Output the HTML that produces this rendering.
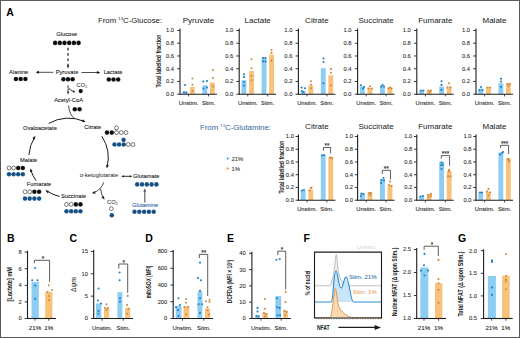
<!DOCTYPE html>
<html><head><meta charset="utf-8"><style>
html,body{margin:0;padding:0;background:#fff;}
svg{display:block;}
text{font-family:"Liberation Sans", sans-serif;}
</style></head><body>
<svg width="520" height="338" viewBox="0 0 520 338">
<rect width="520" height="338" fill="#fff"/>
<rect x="0.5" y="0.5" width="519" height="337" fill="none" stroke="#5a5a5a" stroke-width="1"/>
<text x="6.30" y="15.80" font-size="10.5" text-anchor="start" fill="#000" font-weight="bold"  >A</text>
<text x="7.00" y="241.80" font-size="10.5" text-anchor="start" fill="#000" font-weight="bold"  >B</text>
<text x="69.40" y="241.80" font-size="10.5" text-anchor="start" fill="#000" font-weight="bold"  >C</text>
<text x="145.30" y="241.80" font-size="10.5" text-anchor="start" fill="#000" font-weight="bold"  >D</text>
<text x="227.00" y="241.80" font-size="10.5" text-anchor="start" fill="#000" font-weight="bold"  >E</text>
<text x="303.40" y="241.80" font-size="10.5" text-anchor="start" fill="#000" font-weight="bold"  >F</text>
<text x="458.00" y="242.20" font-size="10.5" text-anchor="start" fill="#000" font-weight="bold"  >G</text>
<text x="198.50" y="23.00" font-size="8.0" text-anchor="middle" fill="#161616" font-weight="normal"  >Pyruvate</text>
<rect x="182.30" y="91.65" width="4.90" height="2.55" fill="#8dcdf2"/>
<rect x="189.90" y="86.87" width="4.90" height="7.33" fill="#f8c27a"/>
<rect x="202.40" y="85.28" width="4.90" height="8.92" fill="#8dcdf2"/>
<rect x="209.90" y="82.35" width="4.90" height="11.85" fill="#f8c27a"/>
<circle cx="185.00" cy="85.00" r="1.05" fill="#2280c4" stroke="none" stroke-width="0"/>
<circle cx="184.00" cy="92.30" r="1.05" fill="#2280c4" stroke="none" stroke-width="0"/>
<circle cx="186.50" cy="92.50" r="1.05" fill="#2280c4" stroke="none" stroke-width="0"/>
<circle cx="192.40" cy="78.50" r="1.05" fill="#cf8a45" stroke="none" stroke-width="0"/>
<circle cx="192.40" cy="84.70" r="1.05" fill="#cf8a45" stroke="none" stroke-width="0"/>
<circle cx="192.40" cy="91.00" r="1.05" fill="#cf8a45" stroke="none" stroke-width="0"/>
<circle cx="203.30" cy="81.60" r="1.05" fill="#2280c4" stroke="none" stroke-width="0"/>
<circle cx="207.00" cy="81.00" r="1.05" fill="#2280c4" stroke="none" stroke-width="0"/>
<circle cx="203.50" cy="88.60" r="1.05" fill="#2280c4" stroke="none" stroke-width="0"/>
<circle cx="207.00" cy="87.50" r="1.05" fill="#2280c4" stroke="none" stroke-width="0"/>
<circle cx="213.00" cy="70.00" r="1.05" fill="#cf8a45" stroke="none" stroke-width="0"/>
<circle cx="213.00" cy="78.00" r="1.05" fill="#cf8a45" stroke="none" stroke-width="0"/>
<circle cx="213.00" cy="86.40" r="1.05" fill="#cf8a45" stroke="none" stroke-width="0"/>
<line x1="180.00" y1="28.50" x2="180.00" y2="94.70" stroke="#1e1e1e" stroke-width="1.1" />
<line x1="179.50" y1="94.20" x2="217.00" y2="94.20" stroke="#1e1e1e" stroke-width="1.1" />
<line x1="177.20" y1="94.20" x2="180.00" y2="94.20" stroke="#1e1e1e" stroke-width="0.9" />
<text x="174.00" y="96.10" font-size="5.8" text-anchor="end" fill="#2a2a2a" font-weight="normal" stroke="#2a2a2a" stroke-width="0.08" >0.0</text>
<line x1="177.20" y1="81.46" x2="180.00" y2="81.46" stroke="#1e1e1e" stroke-width="0.9" />
<text x="174.00" y="83.36" font-size="5.8" text-anchor="end" fill="#2a2a2a" font-weight="normal" stroke="#2a2a2a" stroke-width="0.08" >0.2</text>
<line x1="177.20" y1="68.72" x2="180.00" y2="68.72" stroke="#1e1e1e" stroke-width="0.9" />
<text x="174.00" y="70.62" font-size="5.8" text-anchor="end" fill="#2a2a2a" font-weight="normal" stroke="#2a2a2a" stroke-width="0.08" >0.4</text>
<line x1="177.20" y1="55.98" x2="180.00" y2="55.98" stroke="#1e1e1e" stroke-width="0.9" />
<text x="174.00" y="57.88" font-size="5.8" text-anchor="end" fill="#2a2a2a" font-weight="normal" stroke="#2a2a2a" stroke-width="0.08" >0.6</text>
<line x1="177.20" y1="43.24" x2="180.00" y2="43.24" stroke="#1e1e1e" stroke-width="0.9" />
<text x="174.00" y="45.14" font-size="5.8" text-anchor="end" fill="#2a2a2a" font-weight="normal" stroke="#2a2a2a" stroke-width="0.08" >0.8</text>
<line x1="177.20" y1="30.50" x2="180.00" y2="30.50" stroke="#1e1e1e" stroke-width="0.9" />
<text x="174.00" y="32.40" font-size="5.8" text-anchor="end" fill="#2a2a2a" font-weight="normal" stroke="#2a2a2a" stroke-width="0.08" >1.0</text>
<line x1="188.60" y1="94.20" x2="188.60" y2="96.40" stroke="#1e1e1e" stroke-width="0.8" />
<line x1="208.50" y1="94.20" x2="208.50" y2="96.40" stroke="#1e1e1e" stroke-width="0.8" />
<text x="188.60" y="105.10" font-size="5.8" text-anchor="middle" fill="#161616" font-weight="normal" stroke="#161616" stroke-width="0.08" >Unstim.</text>
<text x="208.50" y="105.10" font-size="5.8" text-anchor="middle" fill="#161616" font-weight="normal" stroke="#161616" stroke-width="0.08" >Stim.</text>
<text transform="translate(160.70,61.10) rotate(-90)" x="0" y="0" font-size="7.8" font-weight="bold" text-anchor="middle" fill="#222" textLength="53" lengthAdjust="spacingAndGlyphs">Total labelled fraction</text>
<text x="257.70" y="23.00" font-size="8.0" text-anchor="middle" fill="#161616" font-weight="normal"  >Lactate</text>
<rect x="241.50" y="80.25" width="4.90" height="13.95" fill="#8dcdf2"/>
<rect x="249.10" y="70.82" width="4.90" height="23.38" fill="#f8c27a"/>
<rect x="261.60" y="57.64" width="4.90" height="36.56" fill="#8dcdf2"/>
<rect x="269.10" y="54.58" width="4.90" height="39.62" fill="#f8c27a"/>
<circle cx="244.00" cy="74.30" r="1.05" fill="#2280c4" stroke="none" stroke-width="0"/>
<circle cx="244.00" cy="76.90" r="1.05" fill="#2280c4" stroke="none" stroke-width="0"/>
<circle cx="244.00" cy="82.00" r="1.05" fill="#2280c4" stroke="none" stroke-width="0"/>
<circle cx="244.00" cy="85.50" r="1.05" fill="#2280c4" stroke="none" stroke-width="0"/>
<circle cx="251.50" cy="59.20" r="1.05" fill="#cf8a45" stroke="none" stroke-width="0"/>
<circle cx="251.50" cy="68.30" r="1.05" fill="#cf8a45" stroke="none" stroke-width="0"/>
<circle cx="251.50" cy="76.00" r="1.05" fill="#cf8a45" stroke="none" stroke-width="0"/>
<circle cx="251.50" cy="80.30" r="1.05" fill="#cf8a45" stroke="none" stroke-width="0"/>
<circle cx="263.00" cy="58.00" r="1.05" fill="#2280c4" stroke="none" stroke-width="0"/>
<circle cx="265.50" cy="58.00" r="1.05" fill="#2280c4" stroke="none" stroke-width="0"/>
<circle cx="263.00" cy="61.40" r="1.05" fill="#2280c4" stroke="none" stroke-width="0"/>
<circle cx="265.50" cy="61.40" r="1.05" fill="#2280c4" stroke="none" stroke-width="0"/>
<circle cx="271.50" cy="50.00" r="1.05" fill="#cf8a45" stroke="none" stroke-width="0"/>
<circle cx="271.50" cy="52.90" r="1.05" fill="#cf8a45" stroke="none" stroke-width="0"/>
<circle cx="271.50" cy="60.60" r="1.05" fill="#cf8a45" stroke="none" stroke-width="0"/>
<line x1="239.20" y1="28.50" x2="239.20" y2="94.70" stroke="#1e1e1e" stroke-width="1.1" />
<line x1="238.70" y1="94.20" x2="276.20" y2="94.20" stroke="#1e1e1e" stroke-width="1.1" />
<line x1="236.40" y1="94.20" x2="239.20" y2="94.20" stroke="#1e1e1e" stroke-width="0.9" />
<text x="233.20" y="96.10" font-size="5.8" text-anchor="end" fill="#2a2a2a" font-weight="normal" stroke="#2a2a2a" stroke-width="0.08" >0.0</text>
<line x1="236.40" y1="81.46" x2="239.20" y2="81.46" stroke="#1e1e1e" stroke-width="0.9" />
<text x="233.20" y="83.36" font-size="5.8" text-anchor="end" fill="#2a2a2a" font-weight="normal" stroke="#2a2a2a" stroke-width="0.08" >0.2</text>
<line x1="236.40" y1="68.72" x2="239.20" y2="68.72" stroke="#1e1e1e" stroke-width="0.9" />
<text x="233.20" y="70.62" font-size="5.8" text-anchor="end" fill="#2a2a2a" font-weight="normal" stroke="#2a2a2a" stroke-width="0.08" >0.4</text>
<line x1="236.40" y1="55.98" x2="239.20" y2="55.98" stroke="#1e1e1e" stroke-width="0.9" />
<text x="233.20" y="57.88" font-size="5.8" text-anchor="end" fill="#2a2a2a" font-weight="normal" stroke="#2a2a2a" stroke-width="0.08" >0.6</text>
<line x1="236.40" y1="43.24" x2="239.20" y2="43.24" stroke="#1e1e1e" stroke-width="0.9" />
<text x="233.20" y="45.14" font-size="5.8" text-anchor="end" fill="#2a2a2a" font-weight="normal" stroke="#2a2a2a" stroke-width="0.08" >0.8</text>
<line x1="236.40" y1="30.50" x2="239.20" y2="30.50" stroke="#1e1e1e" stroke-width="0.9" />
<text x="233.20" y="32.40" font-size="5.8" text-anchor="end" fill="#2a2a2a" font-weight="normal" stroke="#2a2a2a" stroke-width="0.08" >1.0</text>
<line x1="247.80" y1="94.20" x2="247.80" y2="96.40" stroke="#1e1e1e" stroke-width="0.8" />
<line x1="267.70" y1="94.20" x2="267.70" y2="96.40" stroke="#1e1e1e" stroke-width="0.8" />
<text x="247.80" y="105.10" font-size="5.8" text-anchor="middle" fill="#161616" font-weight="normal" stroke="#161616" stroke-width="0.08" >Unstim.</text>
<text x="267.70" y="105.10" font-size="5.8" text-anchor="middle" fill="#161616" font-weight="normal" stroke="#161616" stroke-width="0.08" >Stim.</text>
<text x="316.90" y="23.00" font-size="8.0" text-anchor="middle" fill="#161616" font-weight="normal"  >Citrate</text>
<rect x="300.70" y="91.02" width="4.90" height="3.19" fill="#8dcdf2"/>
<rect x="308.30" y="85.41" width="4.90" height="8.79" fill="#f8c27a"/>
<rect x="320.80" y="68.15" width="4.90" height="26.05" fill="#8dcdf2"/>
<rect x="328.30" y="75.41" width="4.90" height="18.79" fill="#f8c27a"/>
<circle cx="301.50" cy="87.60" r="1.05" fill="#2280c4" stroke="none" stroke-width="0"/>
<circle cx="305.00" cy="88.30" r="1.05" fill="#2280c4" stroke="none" stroke-width="0"/>
<circle cx="302.00" cy="91.00" r="1.05" fill="#2280c4" stroke="none" stroke-width="0"/>
<circle cx="303.50" cy="92.00" r="1.05" fill="#2280c4" stroke="none" stroke-width="0"/>
<circle cx="311.00" cy="81.20" r="1.05" fill="#cf8a45" stroke="none" stroke-width="0"/>
<circle cx="311.00" cy="84.80" r="1.05" fill="#cf8a45" stroke="none" stroke-width="0"/>
<circle cx="311.00" cy="88.30" r="1.05" fill="#cf8a45" stroke="none" stroke-width="0"/>
<circle cx="323.50" cy="58.50" r="1.05" fill="#2280c4" stroke="none" stroke-width="0"/>
<circle cx="323.50" cy="62.00" r="1.05" fill="#2280c4" stroke="none" stroke-width="0"/>
<circle cx="323.50" cy="83.30" r="1.05" fill="#2280c4" stroke="none" stroke-width="0"/>
<circle cx="331.00" cy="69.10" r="1.05" fill="#cf8a45" stroke="none" stroke-width="0"/>
<circle cx="331.00" cy="72.70" r="1.05" fill="#cf8a45" stroke="none" stroke-width="0"/>
<circle cx="331.00" cy="85.50" r="1.05" fill="#cf8a45" stroke="none" stroke-width="0"/>
<line x1="298.40" y1="28.50" x2="298.40" y2="94.70" stroke="#1e1e1e" stroke-width="1.1" />
<line x1="297.90" y1="94.20" x2="335.40" y2="94.20" stroke="#1e1e1e" stroke-width="1.1" />
<line x1="295.60" y1="94.20" x2="298.40" y2="94.20" stroke="#1e1e1e" stroke-width="0.9" />
<text x="292.40" y="96.10" font-size="5.8" text-anchor="end" fill="#2a2a2a" font-weight="normal" stroke="#2a2a2a" stroke-width="0.08" >0.0</text>
<line x1="295.60" y1="81.46" x2="298.40" y2="81.46" stroke="#1e1e1e" stroke-width="0.9" />
<text x="292.40" y="83.36" font-size="5.8" text-anchor="end" fill="#2a2a2a" font-weight="normal" stroke="#2a2a2a" stroke-width="0.08" >0.2</text>
<line x1="295.60" y1="68.72" x2="298.40" y2="68.72" stroke="#1e1e1e" stroke-width="0.9" />
<text x="292.40" y="70.62" font-size="5.8" text-anchor="end" fill="#2a2a2a" font-weight="normal" stroke="#2a2a2a" stroke-width="0.08" >0.4</text>
<line x1="295.60" y1="55.98" x2="298.40" y2="55.98" stroke="#1e1e1e" stroke-width="0.9" />
<text x="292.40" y="57.88" font-size="5.8" text-anchor="end" fill="#2a2a2a" font-weight="normal" stroke="#2a2a2a" stroke-width="0.08" >0.6</text>
<line x1="295.60" y1="43.24" x2="298.40" y2="43.24" stroke="#1e1e1e" stroke-width="0.9" />
<text x="292.40" y="45.14" font-size="5.8" text-anchor="end" fill="#2a2a2a" font-weight="normal" stroke="#2a2a2a" stroke-width="0.08" >0.8</text>
<line x1="295.60" y1="30.50" x2="298.40" y2="30.50" stroke="#1e1e1e" stroke-width="0.9" />
<text x="292.40" y="32.40" font-size="5.8" text-anchor="end" fill="#2a2a2a" font-weight="normal" stroke="#2a2a2a" stroke-width="0.08" >1.0</text>
<line x1="307.00" y1="94.20" x2="307.00" y2="96.40" stroke="#1e1e1e" stroke-width="0.8" />
<line x1="326.90" y1="94.20" x2="326.90" y2="96.40" stroke="#1e1e1e" stroke-width="0.8" />
<text x="307.00" y="105.10" font-size="5.8" text-anchor="middle" fill="#161616" font-weight="normal" stroke="#161616" stroke-width="0.08" >Unstim.</text>
<text x="326.90" y="105.10" font-size="5.8" text-anchor="middle" fill="#161616" font-weight="normal" stroke="#161616" stroke-width="0.08" >Stim.</text>
<text x="376.10" y="23.00" font-size="8.0" text-anchor="middle" fill="#161616" font-weight="normal"  >Succinate</text>
<rect x="359.90" y="86.56" width="4.90" height="7.64" fill="#8dcdf2"/>
<rect x="367.50" y="87.83" width="4.90" height="6.37" fill="#f8c27a"/>
<rect x="380.00" y="86.11" width="4.90" height="8.09" fill="#8dcdf2"/>
<rect x="387.50" y="87.32" width="4.90" height="6.88" fill="#f8c27a"/>
<circle cx="361.00" cy="85.30" r="1.05" fill="#2280c4" stroke="none" stroke-width="0"/>
<circle cx="364.00" cy="87.00" r="1.05" fill="#2280c4" stroke="none" stroke-width="0"/>
<circle cx="363.00" cy="88.50" r="1.05" fill="#2280c4" stroke="none" stroke-width="0"/>
<circle cx="370.00" cy="86.20" r="1.05" fill="#cf8a45" stroke="none" stroke-width="0"/>
<circle cx="368.50" cy="88.50" r="1.05" fill="#cf8a45" stroke="none" stroke-width="0"/>
<circle cx="372.00" cy="88.50" r="1.05" fill="#cf8a45" stroke="none" stroke-width="0"/>
<circle cx="382.50" cy="84.90" r="1.05" fill="#2280c4" stroke="none" stroke-width="0"/>
<circle cx="381.00" cy="86.60" r="1.05" fill="#2280c4" stroke="none" stroke-width="0"/>
<circle cx="384.00" cy="86.60" r="1.05" fill="#2280c4" stroke="none" stroke-width="0"/>
<circle cx="390.00" cy="87.50" r="1.05" fill="#cf8a45" stroke="none" stroke-width="0"/>
<circle cx="388.50" cy="88.50" r="1.05" fill="#cf8a45" stroke="none" stroke-width="0"/>
<circle cx="391.50" cy="88.50" r="1.05" fill="#cf8a45" stroke="none" stroke-width="0"/>
<line x1="357.60" y1="28.50" x2="357.60" y2="94.70" stroke="#1e1e1e" stroke-width="1.1" />
<line x1="357.10" y1="94.20" x2="394.60" y2="94.20" stroke="#1e1e1e" stroke-width="1.1" />
<line x1="354.80" y1="94.20" x2="357.60" y2="94.20" stroke="#1e1e1e" stroke-width="0.9" />
<text x="351.60" y="96.10" font-size="5.8" text-anchor="end" fill="#2a2a2a" font-weight="normal" stroke="#2a2a2a" stroke-width="0.08" >0.0</text>
<line x1="354.80" y1="81.46" x2="357.60" y2="81.46" stroke="#1e1e1e" stroke-width="0.9" />
<text x="351.60" y="83.36" font-size="5.8" text-anchor="end" fill="#2a2a2a" font-weight="normal" stroke="#2a2a2a" stroke-width="0.08" >0.2</text>
<line x1="354.80" y1="68.72" x2="357.60" y2="68.72" stroke="#1e1e1e" stroke-width="0.9" />
<text x="351.60" y="70.62" font-size="5.8" text-anchor="end" fill="#2a2a2a" font-weight="normal" stroke="#2a2a2a" stroke-width="0.08" >0.4</text>
<line x1="354.80" y1="55.98" x2="357.60" y2="55.98" stroke="#1e1e1e" stroke-width="0.9" />
<text x="351.60" y="57.88" font-size="5.8" text-anchor="end" fill="#2a2a2a" font-weight="normal" stroke="#2a2a2a" stroke-width="0.08" >0.6</text>
<line x1="354.80" y1="43.24" x2="357.60" y2="43.24" stroke="#1e1e1e" stroke-width="0.9" />
<text x="351.60" y="45.14" font-size="5.8" text-anchor="end" fill="#2a2a2a" font-weight="normal" stroke="#2a2a2a" stroke-width="0.08" >0.8</text>
<line x1="354.80" y1="30.50" x2="357.60" y2="30.50" stroke="#1e1e1e" stroke-width="0.9" />
<text x="351.60" y="32.40" font-size="5.8" text-anchor="end" fill="#2a2a2a" font-weight="normal" stroke="#2a2a2a" stroke-width="0.08" >1.0</text>
<line x1="366.20" y1="94.20" x2="366.20" y2="96.40" stroke="#1e1e1e" stroke-width="0.8" />
<line x1="386.10" y1="94.20" x2="386.10" y2="96.40" stroke="#1e1e1e" stroke-width="0.8" />
<text x="366.20" y="105.10" font-size="5.8" text-anchor="middle" fill="#161616" font-weight="normal" stroke="#161616" stroke-width="0.08" >Unstim.</text>
<text x="386.10" y="105.10" font-size="5.8" text-anchor="middle" fill="#161616" font-weight="normal" stroke="#161616" stroke-width="0.08" >Stim.</text>
<text x="435.30" y="23.00" font-size="8.0" text-anchor="middle" fill="#161616" font-weight="normal"  >Fumarate</text>
<rect x="419.10" y="90.19" width="4.90" height="4.01" fill="#8dcdf2"/>
<rect x="426.70" y="90.63" width="4.90" height="3.57" fill="#f8c27a"/>
<rect x="439.20" y="86.49" width="4.90" height="7.71" fill="#8dcdf2"/>
<rect x="446.70" y="87.32" width="4.90" height="6.88" fill="#f8c27a"/>
<circle cx="421.00" cy="90.50" r="1.05" fill="#2280c4" stroke="none" stroke-width="0"/>
<circle cx="423.50" cy="90.50" r="1.05" fill="#2280c4" stroke="none" stroke-width="0"/>
<circle cx="428.50" cy="90.50" r="1.05" fill="#cf8a45" stroke="none" stroke-width="0"/>
<circle cx="431.00" cy="90.50" r="1.05" fill="#cf8a45" stroke="none" stroke-width="0"/>
<circle cx="429.50" cy="92.00" r="1.05" fill="#cf8a45" stroke="none" stroke-width="0"/>
<circle cx="441.50" cy="81.20" r="1.05" fill="#2280c4" stroke="none" stroke-width="0"/>
<circle cx="441.50" cy="84.90" r="1.05" fill="#2280c4" stroke="none" stroke-width="0"/>
<circle cx="441.50" cy="89.90" r="1.05" fill="#2280c4" stroke="none" stroke-width="0"/>
<circle cx="449.00" cy="83.30" r="1.05" fill="#cf8a45" stroke="none" stroke-width="0"/>
<circle cx="447.50" cy="87.40" r="1.05" fill="#cf8a45" stroke="none" stroke-width="0"/>
<circle cx="450.50" cy="87.40" r="1.05" fill="#cf8a45" stroke="none" stroke-width="0"/>
<line x1="416.80" y1="28.50" x2="416.80" y2="94.70" stroke="#1e1e1e" stroke-width="1.1" />
<line x1="416.30" y1="94.20" x2="453.80" y2="94.20" stroke="#1e1e1e" stroke-width="1.1" />
<line x1="414.00" y1="94.20" x2="416.80" y2="94.20" stroke="#1e1e1e" stroke-width="0.9" />
<text x="410.80" y="96.10" font-size="5.8" text-anchor="end" fill="#2a2a2a" font-weight="normal" stroke="#2a2a2a" stroke-width="0.08" >0.0</text>
<line x1="414.00" y1="81.46" x2="416.80" y2="81.46" stroke="#1e1e1e" stroke-width="0.9" />
<text x="410.80" y="83.36" font-size="5.8" text-anchor="end" fill="#2a2a2a" font-weight="normal" stroke="#2a2a2a" stroke-width="0.08" >0.2</text>
<line x1="414.00" y1="68.72" x2="416.80" y2="68.72" stroke="#1e1e1e" stroke-width="0.9" />
<text x="410.80" y="70.62" font-size="5.8" text-anchor="end" fill="#2a2a2a" font-weight="normal" stroke="#2a2a2a" stroke-width="0.08" >0.4</text>
<line x1="414.00" y1="55.98" x2="416.80" y2="55.98" stroke="#1e1e1e" stroke-width="0.9" />
<text x="410.80" y="57.88" font-size="5.8" text-anchor="end" fill="#2a2a2a" font-weight="normal" stroke="#2a2a2a" stroke-width="0.08" >0.6</text>
<line x1="414.00" y1="43.24" x2="416.80" y2="43.24" stroke="#1e1e1e" stroke-width="0.9" />
<text x="410.80" y="45.14" font-size="5.8" text-anchor="end" fill="#2a2a2a" font-weight="normal" stroke="#2a2a2a" stroke-width="0.08" >0.8</text>
<line x1="414.00" y1="30.50" x2="416.80" y2="30.50" stroke="#1e1e1e" stroke-width="0.9" />
<text x="410.80" y="32.40" font-size="5.8" text-anchor="end" fill="#2a2a2a" font-weight="normal" stroke="#2a2a2a" stroke-width="0.08" >1.0</text>
<line x1="425.40" y1="94.20" x2="425.40" y2="96.40" stroke="#1e1e1e" stroke-width="0.8" />
<line x1="445.30" y1="94.20" x2="445.30" y2="96.40" stroke="#1e1e1e" stroke-width="0.8" />
<text x="425.40" y="105.10" font-size="5.8" text-anchor="middle" fill="#161616" font-weight="normal" stroke="#161616" stroke-width="0.08" >Unstim.</text>
<text x="445.30" y="105.10" font-size="5.8" text-anchor="middle" fill="#161616" font-weight="normal" stroke="#161616" stroke-width="0.08" >Stim.</text>
<text x="494.50" y="23.00" font-size="8.0" text-anchor="middle" fill="#161616" font-weight="normal"  >Malate</text>
<rect x="478.30" y="88.53" width="4.90" height="5.67" fill="#8dcdf2"/>
<rect x="485.90" y="87.32" width="4.90" height="6.88" fill="#f8c27a"/>
<rect x="498.40" y="83.24" width="4.90" height="10.96" fill="#8dcdf2"/>
<rect x="505.90" y="83.24" width="4.90" height="10.96" fill="#f8c27a"/>
<circle cx="481.00" cy="87.00" r="1.05" fill="#2280c4" stroke="none" stroke-width="0"/>
<circle cx="479.50" cy="90.30" r="1.05" fill="#2280c4" stroke="none" stroke-width="0"/>
<circle cx="482.50" cy="90.30" r="1.05" fill="#2280c4" stroke="none" stroke-width="0"/>
<circle cx="487.50" cy="87.50" r="1.05" fill="#cf8a45" stroke="none" stroke-width="0"/>
<circle cx="490.00" cy="87.50" r="1.05" fill="#cf8a45" stroke="none" stroke-width="0"/>
<circle cx="501.00" cy="78.70" r="1.05" fill="#2280c4" stroke="none" stroke-width="0"/>
<circle cx="501.00" cy="81.60" r="1.05" fill="#2280c4" stroke="none" stroke-width="0"/>
<circle cx="501.00" cy="87.00" r="1.05" fill="#2280c4" stroke="none" stroke-width="0"/>
<circle cx="507.50" cy="84.10" r="1.05" fill="#cf8a45" stroke="none" stroke-width="0"/>
<circle cx="510.00" cy="84.10" r="1.05" fill="#cf8a45" stroke="none" stroke-width="0"/>
<circle cx="508.50" cy="86.20" r="1.05" fill="#cf8a45" stroke="none" stroke-width="0"/>
<line x1="476.00" y1="28.50" x2="476.00" y2="94.70" stroke="#1e1e1e" stroke-width="1.1" />
<line x1="475.50" y1="94.20" x2="513.00" y2="94.20" stroke="#1e1e1e" stroke-width="1.1" />
<line x1="473.20" y1="94.20" x2="476.00" y2="94.20" stroke="#1e1e1e" stroke-width="0.9" />
<text x="470.00" y="96.10" font-size="5.8" text-anchor="end" fill="#2a2a2a" font-weight="normal" stroke="#2a2a2a" stroke-width="0.08" >0.0</text>
<line x1="473.20" y1="81.46" x2="476.00" y2="81.46" stroke="#1e1e1e" stroke-width="0.9" />
<text x="470.00" y="83.36" font-size="5.8" text-anchor="end" fill="#2a2a2a" font-weight="normal" stroke="#2a2a2a" stroke-width="0.08" >0.2</text>
<line x1="473.20" y1="68.72" x2="476.00" y2="68.72" stroke="#1e1e1e" stroke-width="0.9" />
<text x="470.00" y="70.62" font-size="5.8" text-anchor="end" fill="#2a2a2a" font-weight="normal" stroke="#2a2a2a" stroke-width="0.08" >0.4</text>
<line x1="473.20" y1="55.98" x2="476.00" y2="55.98" stroke="#1e1e1e" stroke-width="0.9" />
<text x="470.00" y="57.88" font-size="5.8" text-anchor="end" fill="#2a2a2a" font-weight="normal" stroke="#2a2a2a" stroke-width="0.08" >0.6</text>
<line x1="473.20" y1="43.24" x2="476.00" y2="43.24" stroke="#1e1e1e" stroke-width="0.9" />
<text x="470.00" y="45.14" font-size="5.8" text-anchor="end" fill="#2a2a2a" font-weight="normal" stroke="#2a2a2a" stroke-width="0.08" >0.8</text>
<line x1="473.20" y1="30.50" x2="476.00" y2="30.50" stroke="#1e1e1e" stroke-width="0.9" />
<text x="470.00" y="32.40" font-size="5.8" text-anchor="end" fill="#2a2a2a" font-weight="normal" stroke="#2a2a2a" stroke-width="0.08" >1.0</text>
<line x1="484.60" y1="94.20" x2="484.60" y2="96.40" stroke="#1e1e1e" stroke-width="0.8" />
<line x1="504.50" y1="94.20" x2="504.50" y2="96.40" stroke="#1e1e1e" stroke-width="0.8" />
<text x="484.60" y="105.10" font-size="5.8" text-anchor="middle" fill="#161616" font-weight="normal" stroke="#161616" stroke-width="0.08" >Unstim.</text>
<text x="504.50" y="105.10" font-size="5.8" text-anchor="middle" fill="#161616" font-weight="normal" stroke="#161616" stroke-width="0.08" >Stim.</text>
<text x="316.90" y="129.00" font-size="8.0" text-anchor="middle" fill="#161616" font-weight="normal"  >Citrate</text>
<rect x="300.70" y="190.90" width="4.90" height="9.30" fill="#8dcdf2"/>
<rect x="308.30" y="189.63" width="4.90" height="10.57" fill="#f8c27a"/>
<rect x="320.80" y="154.65" width="4.90" height="45.55" fill="#8dcdf2"/>
<rect x="328.30" y="156.88" width="4.90" height="43.32" fill="#f8c27a"/>
<circle cx="302.00" cy="190.50" r="1.05" fill="#2280c4" stroke="none" stroke-width="0"/>
<circle cx="304.00" cy="190.00" r="1.05" fill="#2280c4" stroke="none" stroke-width="0"/>
<circle cx="311.00" cy="188.00" r="1.05" fill="#cf8a45" stroke="none" stroke-width="0"/>
<circle cx="309.50" cy="190.50" r="1.05" fill="#cf8a45" stroke="none" stroke-width="0"/>
<circle cx="311.50" cy="187.50" r="1.05" fill="#cf8a45" stroke="none" stroke-width="0"/>
<circle cx="322.00" cy="155.50" r="1.05" fill="#2280c4" stroke="none" stroke-width="0"/>
<circle cx="324.00" cy="155.00" r="1.05" fill="#2280c4" stroke="none" stroke-width="0"/>
<circle cx="330.00" cy="157.50" r="1.05" fill="#cf8a45" stroke="none" stroke-width="0"/>
<circle cx="332.00" cy="158.00" r="1.05" fill="#cf8a45" stroke="none" stroke-width="0"/>
<line x1="298.40" y1="134.50" x2="298.40" y2="200.70" stroke="#1e1e1e" stroke-width="1.1" />
<line x1="297.90" y1="200.20" x2="335.40" y2="200.20" stroke="#1e1e1e" stroke-width="1.1" />
<line x1="295.60" y1="200.20" x2="298.40" y2="200.20" stroke="#1e1e1e" stroke-width="0.9" />
<text x="293.90" y="202.10" font-size="5.8" text-anchor="end" fill="#2a2a2a" font-weight="normal" stroke="#2a2a2a" stroke-width="0.08" >0.0</text>
<line x1="295.60" y1="187.46" x2="298.40" y2="187.46" stroke="#1e1e1e" stroke-width="0.9" />
<text x="293.90" y="189.36" font-size="5.8" text-anchor="end" fill="#2a2a2a" font-weight="normal" stroke="#2a2a2a" stroke-width="0.08" >0.2</text>
<line x1="295.60" y1="174.72" x2="298.40" y2="174.72" stroke="#1e1e1e" stroke-width="0.9" />
<text x="293.90" y="176.62" font-size="5.8" text-anchor="end" fill="#2a2a2a" font-weight="normal" stroke="#2a2a2a" stroke-width="0.08" >0.4</text>
<line x1="295.60" y1="161.98" x2="298.40" y2="161.98" stroke="#1e1e1e" stroke-width="0.9" />
<text x="293.90" y="163.88" font-size="5.8" text-anchor="end" fill="#2a2a2a" font-weight="normal" stroke="#2a2a2a" stroke-width="0.08" >0.6</text>
<line x1="295.60" y1="149.24" x2="298.40" y2="149.24" stroke="#1e1e1e" stroke-width="0.9" />
<text x="293.90" y="151.14" font-size="5.8" text-anchor="end" fill="#2a2a2a" font-weight="normal" stroke="#2a2a2a" stroke-width="0.08" >0.8</text>
<line x1="295.60" y1="136.50" x2="298.40" y2="136.50" stroke="#1e1e1e" stroke-width="0.9" />
<text x="293.90" y="138.40" font-size="5.8" text-anchor="end" fill="#2a2a2a" font-weight="normal" stroke="#2a2a2a" stroke-width="0.08" >1.0</text>
<line x1="307.00" y1="200.20" x2="307.00" y2="202.40" stroke="#1e1e1e" stroke-width="0.8" />
<line x1="326.90" y1="200.20" x2="326.90" y2="202.40" stroke="#1e1e1e" stroke-width="0.8" />
<text x="307.00" y="211.10" font-size="5.8" text-anchor="middle" fill="#161616" font-weight="normal" stroke="#161616" stroke-width="0.08" >Unstim.</text>
<text x="326.90" y="211.10" font-size="5.8" text-anchor="middle" fill="#161616" font-weight="normal" stroke="#161616" stroke-width="0.08" >Stim.</text>
<text transform="translate(283.80,167.10) rotate(-90)" x="0" y="0" font-size="7.8" font-weight="bold" text-anchor="middle" fill="#222" textLength="53" lengthAdjust="spacingAndGlyphs">Total labelled fraction</text>
<path d="M323.4,150.7 L323.4,147.5 L330.6,147.5 L330.6,153.3" stroke="#333" stroke-width="0.8" fill="none" />
<text x="327.00" y="147.90" font-size="6.3" text-anchor="middle" fill="#333" font-weight="normal" stroke="#333" stroke-width="0.15" >**</text>
<text x="376.10" y="129.00" font-size="8.0" text-anchor="middle" fill="#161616" font-weight="normal"  >Succinate</text>
<rect x="359.90" y="193.32" width="4.90" height="6.88" fill="#8dcdf2"/>
<rect x="367.50" y="192.68" width="4.90" height="7.52" fill="#f8c27a"/>
<rect x="380.00" y="179.18" width="4.90" height="21.02" fill="#8dcdf2"/>
<rect x="387.50" y="185.04" width="4.90" height="15.16" fill="#f8c27a"/>
<circle cx="361.50" cy="193.50" r="1.05" fill="#2280c4" stroke="none" stroke-width="0"/>
<circle cx="363.50" cy="194.00" r="1.05" fill="#2280c4" stroke="none" stroke-width="0"/>
<circle cx="361.00" cy="196.00" r="1.05" fill="#2280c4" stroke="none" stroke-width="0"/>
<circle cx="369.00" cy="193.00" r="1.05" fill="#cf8a45" stroke="none" stroke-width="0"/>
<circle cx="371.00" cy="193.00" r="1.05" fill="#cf8a45" stroke="none" stroke-width="0"/>
<circle cx="370.00" cy="195.00" r="1.05" fill="#cf8a45" stroke="none" stroke-width="0"/>
<circle cx="383.50" cy="178.00" r="1.05" fill="#2280c4" stroke="none" stroke-width="0"/>
<circle cx="381.50" cy="180.00" r="1.05" fill="#2280c4" stroke="none" stroke-width="0"/>
<circle cx="384.00" cy="180.50" r="1.05" fill="#2280c4" stroke="none" stroke-width="0"/>
<circle cx="381.00" cy="183.00" r="1.05" fill="#2280c4" stroke="none" stroke-width="0"/>
<circle cx="390.00" cy="181.60" r="1.05" fill="#cf8a45" stroke="none" stroke-width="0"/>
<circle cx="389.00" cy="185.00" r="1.05" fill="#cf8a45" stroke="none" stroke-width="0"/>
<circle cx="391.50" cy="186.00" r="1.05" fill="#cf8a45" stroke="none" stroke-width="0"/>
<line x1="357.60" y1="134.50" x2="357.60" y2="200.70" stroke="#1e1e1e" stroke-width="1.1" />
<line x1="357.10" y1="200.20" x2="394.60" y2="200.20" stroke="#1e1e1e" stroke-width="1.1" />
<line x1="354.80" y1="200.20" x2="357.60" y2="200.20" stroke="#1e1e1e" stroke-width="0.9" />
<text x="353.10" y="202.10" font-size="5.8" text-anchor="end" fill="#2a2a2a" font-weight="normal" stroke="#2a2a2a" stroke-width="0.08" >0.0</text>
<line x1="354.80" y1="187.46" x2="357.60" y2="187.46" stroke="#1e1e1e" stroke-width="0.9" />
<text x="353.10" y="189.36" font-size="5.8" text-anchor="end" fill="#2a2a2a" font-weight="normal" stroke="#2a2a2a" stroke-width="0.08" >0.2</text>
<line x1="354.80" y1="174.72" x2="357.60" y2="174.72" stroke="#1e1e1e" stroke-width="0.9" />
<text x="353.10" y="176.62" font-size="5.8" text-anchor="end" fill="#2a2a2a" font-weight="normal" stroke="#2a2a2a" stroke-width="0.08" >0.4</text>
<line x1="354.80" y1="161.98" x2="357.60" y2="161.98" stroke="#1e1e1e" stroke-width="0.9" />
<text x="353.10" y="163.88" font-size="5.8" text-anchor="end" fill="#2a2a2a" font-weight="normal" stroke="#2a2a2a" stroke-width="0.08" >0.6</text>
<line x1="354.80" y1="149.24" x2="357.60" y2="149.24" stroke="#1e1e1e" stroke-width="0.9" />
<text x="353.10" y="151.14" font-size="5.8" text-anchor="end" fill="#2a2a2a" font-weight="normal" stroke="#2a2a2a" stroke-width="0.08" >0.8</text>
<line x1="354.80" y1="136.50" x2="357.60" y2="136.50" stroke="#1e1e1e" stroke-width="0.9" />
<text x="353.10" y="138.40" font-size="5.8" text-anchor="end" fill="#2a2a2a" font-weight="normal" stroke="#2a2a2a" stroke-width="0.08" >1.0</text>
<line x1="366.20" y1="200.20" x2="366.20" y2="202.40" stroke="#1e1e1e" stroke-width="0.8" />
<line x1="386.10" y1="200.20" x2="386.10" y2="202.40" stroke="#1e1e1e" stroke-width="0.8" />
<text x="366.20" y="211.10" font-size="5.8" text-anchor="middle" fill="#161616" font-weight="normal" stroke="#161616" stroke-width="0.08" >Unstim.</text>
<text x="386.10" y="211.10" font-size="5.8" text-anchor="middle" fill="#161616" font-weight="normal" stroke="#161616" stroke-width="0.08" >Stim.</text>
<path d="M382.3,173.9 L382.3,170.3 L390.5,170.3 L390.5,179.5" stroke="#333" stroke-width="0.8" fill="none" />
<text x="386.20" y="171.30" font-size="6.3" text-anchor="middle" fill="#333" font-weight="normal" stroke="#333" stroke-width="0.15" >**</text>
<text x="435.30" y="129.00" font-size="8.0" text-anchor="middle" fill="#161616" font-weight="normal"  >Fumarate</text>
<rect x="419.10" y="196.12" width="4.90" height="4.08" fill="#8dcdf2"/>
<rect x="426.70" y="194.02" width="4.90" height="6.18" fill="#f8c27a"/>
<rect x="439.20" y="161.66" width="4.90" height="38.54" fill="#8dcdf2"/>
<rect x="446.70" y="170.90" width="4.90" height="29.30" fill="#f8c27a"/>
<circle cx="420.50" cy="196.50" r="1.05" fill="#2280c4" stroke="none" stroke-width="0"/>
<circle cx="423.00" cy="196.00" r="1.05" fill="#2280c4" stroke="none" stroke-width="0"/>
<circle cx="428.50" cy="195.00" r="1.05" fill="#cf8a45" stroke="none" stroke-width="0"/>
<circle cx="431.00" cy="193.70" r="1.05" fill="#cf8a45" stroke="none" stroke-width="0"/>
<circle cx="431.00" cy="196.00" r="1.05" fill="#cf8a45" stroke="none" stroke-width="0"/>
<circle cx="428.50" cy="197.50" r="1.05" fill="#cf8a45" stroke="none" stroke-width="0"/>
<circle cx="441.50" cy="162.60" r="1.05" fill="#2280c4" stroke="none" stroke-width="0"/>
<circle cx="441.00" cy="165.20" r="1.05" fill="#2280c4" stroke="none" stroke-width="0"/>
<circle cx="443.00" cy="164.60" r="1.05" fill="#2280c4" stroke="none" stroke-width="0"/>
<circle cx="441.50" cy="169.00" r="1.05" fill="#2280c4" stroke="none" stroke-width="0"/>
<circle cx="449.00" cy="169.90" r="1.05" fill="#cf8a45" stroke="none" stroke-width="0"/>
<circle cx="449.00" cy="171.60" r="1.05" fill="#cf8a45" stroke="none" stroke-width="0"/>
<circle cx="448.00" cy="176.40" r="1.05" fill="#cf8a45" stroke="none" stroke-width="0"/>
<circle cx="450.50" cy="176.40" r="1.05" fill="#cf8a45" stroke="none" stroke-width="0"/>
<line x1="416.80" y1="134.50" x2="416.80" y2="200.70" stroke="#1e1e1e" stroke-width="1.1" />
<line x1="416.30" y1="200.20" x2="453.80" y2="200.20" stroke="#1e1e1e" stroke-width="1.1" />
<line x1="414.00" y1="200.20" x2="416.80" y2="200.20" stroke="#1e1e1e" stroke-width="0.9" />
<text x="412.30" y="202.10" font-size="5.8" text-anchor="end" fill="#2a2a2a" font-weight="normal" stroke="#2a2a2a" stroke-width="0.08" >0.0</text>
<line x1="414.00" y1="187.46" x2="416.80" y2="187.46" stroke="#1e1e1e" stroke-width="0.9" />
<text x="412.30" y="189.36" font-size="5.8" text-anchor="end" fill="#2a2a2a" font-weight="normal" stroke="#2a2a2a" stroke-width="0.08" >0.2</text>
<line x1="414.00" y1="174.72" x2="416.80" y2="174.72" stroke="#1e1e1e" stroke-width="0.9" />
<text x="412.30" y="176.62" font-size="5.8" text-anchor="end" fill="#2a2a2a" font-weight="normal" stroke="#2a2a2a" stroke-width="0.08" >0.4</text>
<line x1="414.00" y1="161.98" x2="416.80" y2="161.98" stroke="#1e1e1e" stroke-width="0.9" />
<text x="412.30" y="163.88" font-size="5.8" text-anchor="end" fill="#2a2a2a" font-weight="normal" stroke="#2a2a2a" stroke-width="0.08" >0.6</text>
<line x1="414.00" y1="149.24" x2="416.80" y2="149.24" stroke="#1e1e1e" stroke-width="0.9" />
<text x="412.30" y="151.14" font-size="5.8" text-anchor="end" fill="#2a2a2a" font-weight="normal" stroke="#2a2a2a" stroke-width="0.08" >0.8</text>
<line x1="414.00" y1="136.50" x2="416.80" y2="136.50" stroke="#1e1e1e" stroke-width="0.9" />
<text x="412.30" y="138.40" font-size="5.8" text-anchor="end" fill="#2a2a2a" font-weight="normal" stroke="#2a2a2a" stroke-width="0.08" >1.0</text>
<line x1="425.40" y1="200.20" x2="425.40" y2="202.40" stroke="#1e1e1e" stroke-width="0.8" />
<line x1="445.30" y1="200.20" x2="445.30" y2="202.40" stroke="#1e1e1e" stroke-width="0.8" />
<text x="425.40" y="211.10" font-size="5.8" text-anchor="middle" fill="#161616" font-weight="normal" stroke="#161616" stroke-width="0.08" >Unstim.</text>
<text x="445.30" y="211.10" font-size="5.8" text-anchor="middle" fill="#161616" font-weight="normal" stroke="#161616" stroke-width="0.08" >Stim.</text>
<path d="M441.3,158.6 L441.3,155.6 L449.6,155.6 L449.6,165.7" stroke="#333" stroke-width="0.8" fill="none" />
<text x="445.50" y="156.00" font-size="6.3" text-anchor="middle" fill="#333" font-weight="normal" stroke="#333" stroke-width="0.15" >***</text>
<text x="494.50" y="129.00" font-size="8.0" text-anchor="middle" fill="#161616" font-weight="normal"  >Malate</text>
<rect x="478.30" y="192.43" width="4.90" height="7.77" fill="#8dcdf2"/>
<rect x="485.90" y="191.60" width="4.90" height="8.60" fill="#f8c27a"/>
<rect x="498.40" y="152.42" width="4.90" height="47.78" fill="#8dcdf2"/>
<rect x="505.90" y="158.16" width="4.90" height="42.04" fill="#f8c27a"/>
<circle cx="480.00" cy="192.50" r="1.05" fill="#2280c4" stroke="none" stroke-width="0"/>
<circle cx="482.00" cy="192.50" r="1.05" fill="#2280c4" stroke="none" stroke-width="0"/>
<circle cx="488.50" cy="188.90" r="1.05" fill="#cf8a45" stroke="none" stroke-width="0"/>
<circle cx="487.00" cy="191.50" r="1.05" fill="#cf8a45" stroke="none" stroke-width="0"/>
<circle cx="490.00" cy="192.50" r="1.05" fill="#cf8a45" stroke="none" stroke-width="0"/>
<circle cx="488.50" cy="195.50" r="1.05" fill="#cf8a45" stroke="none" stroke-width="0"/>
<circle cx="500.00" cy="154.60" r="1.05" fill="#2280c4" stroke="none" stroke-width="0"/>
<circle cx="502.00" cy="153.30" r="1.05" fill="#2280c4" stroke="none" stroke-width="0"/>
<circle cx="503.00" cy="152.00" r="1.05" fill="#2280c4" stroke="none" stroke-width="0"/>
<circle cx="508.00" cy="159.10" r="1.05" fill="#cf8a45" stroke="none" stroke-width="0"/>
<circle cx="509.00" cy="160.00" r="1.05" fill="#cf8a45" stroke="none" stroke-width="0"/>
<circle cx="509.00" cy="161.30" r="1.05" fill="#cf8a45" stroke="none" stroke-width="0"/>
<line x1="476.00" y1="134.50" x2="476.00" y2="200.70" stroke="#1e1e1e" stroke-width="1.1" />
<line x1="475.50" y1="200.20" x2="513.00" y2="200.20" stroke="#1e1e1e" stroke-width="1.1" />
<line x1="473.20" y1="200.20" x2="476.00" y2="200.20" stroke="#1e1e1e" stroke-width="0.9" />
<text x="471.50" y="202.10" font-size="5.8" text-anchor="end" fill="#2a2a2a" font-weight="normal" stroke="#2a2a2a" stroke-width="0.08" >0.0</text>
<line x1="473.20" y1="187.46" x2="476.00" y2="187.46" stroke="#1e1e1e" stroke-width="0.9" />
<text x="471.50" y="189.36" font-size="5.8" text-anchor="end" fill="#2a2a2a" font-weight="normal" stroke="#2a2a2a" stroke-width="0.08" >0.2</text>
<line x1="473.20" y1="174.72" x2="476.00" y2="174.72" stroke="#1e1e1e" stroke-width="0.9" />
<text x="471.50" y="176.62" font-size="5.8" text-anchor="end" fill="#2a2a2a" font-weight="normal" stroke="#2a2a2a" stroke-width="0.08" >0.4</text>
<line x1="473.20" y1="161.98" x2="476.00" y2="161.98" stroke="#1e1e1e" stroke-width="0.9" />
<text x="471.50" y="163.88" font-size="5.8" text-anchor="end" fill="#2a2a2a" font-weight="normal" stroke="#2a2a2a" stroke-width="0.08" >0.6</text>
<line x1="473.20" y1="149.24" x2="476.00" y2="149.24" stroke="#1e1e1e" stroke-width="0.9" />
<text x="471.50" y="151.14" font-size="5.8" text-anchor="end" fill="#2a2a2a" font-weight="normal" stroke="#2a2a2a" stroke-width="0.08" >0.8</text>
<line x1="473.20" y1="136.50" x2="476.00" y2="136.50" stroke="#1e1e1e" stroke-width="0.9" />
<text x="471.50" y="138.40" font-size="5.8" text-anchor="end" fill="#2a2a2a" font-weight="normal" stroke="#2a2a2a" stroke-width="0.08" >1.0</text>
<line x1="484.60" y1="200.20" x2="484.60" y2="202.40" stroke="#1e1e1e" stroke-width="0.8" />
<line x1="504.50" y1="200.20" x2="504.50" y2="202.40" stroke="#1e1e1e" stroke-width="0.8" />
<text x="484.60" y="211.10" font-size="5.8" text-anchor="middle" fill="#161616" font-weight="normal" stroke="#161616" stroke-width="0.08" >Unstim.</text>
<text x="504.50" y="211.10" font-size="5.8" text-anchor="middle" fill="#161616" font-weight="normal" stroke="#161616" stroke-width="0.08" >Stim.</text>
<path d="M500.6,148 L500.6,145.3 L508.6,145.3 L508.6,153.8" stroke="#333" stroke-width="0.8" fill="none" />
<text x="504.60" y="145.50" font-size="6.3" text-anchor="middle" fill="#333" font-weight="normal" stroke="#333" stroke-width="0.15" >***</text>
<text x="98" y="23.1" font-size="7.8" fill="#161616">From <tspan font-size="4.2" dy="-3">13</tspan><tspan dy="3">C-Glucose:</tspan></text>
<text x="200" y="129.7" font-size="7.8" fill="#33679c">From <tspan font-size="4.2" dy="-3">13</tspan><tspan dy="3">C-Glutamine:</tspan></text>
<rect x="224.20" y="155.30" width="6.00" height="6.40" fill="#f6fbfe"/>
<circle cx="227.70" cy="158.50" r="0.90" fill="#2280c4" stroke="none" stroke-width="0"/>
<text x="231.50" y="160.60" font-size="5.9" text-anchor="start" fill="#333" font-weight="normal" stroke="#333" stroke-width="0.08" >21%</text>
<rect x="224.20" y="165.30" width="6.00" height="6.40" fill="#fefaf4"/>
<circle cx="227.70" cy="168.50" r="0.90" fill="#cf8a45" stroke="none" stroke-width="0"/>
<text x="231.50" y="170.60" font-size="5.9" text-anchor="start" fill="#333" font-weight="normal" stroke="#333" stroke-width="0.08" >1%</text>
<text x="66.75" y="36.40" font-size="5.75" text-anchor="middle" fill="#1c1c1c" font-weight="normal" stroke="#1c1c1c" stroke-width="0.1" >Glucose</text>
<circle cx="55.10" cy="42.90" r="2.30" fill="#0a0a0a" stroke="#ffffff" stroke-width="0.18"/>
<circle cx="59.80" cy="42.90" r="2.30" fill="#0a0a0a" stroke="#ffffff" stroke-width="0.18"/>
<circle cx="64.50" cy="42.90" r="2.30" fill="#0a0a0a" stroke="#ffffff" stroke-width="0.18"/>
<circle cx="69.20" cy="42.90" r="2.30" fill="#0a0a0a" stroke="#ffffff" stroke-width="0.18"/>
<circle cx="73.90" cy="42.90" r="2.30" fill="#0a0a0a" stroke="#ffffff" stroke-width="0.18"/>
<circle cx="78.60" cy="42.90" r="2.30" fill="#0a0a0a" stroke="#ffffff" stroke-width="0.18"/>
<line x1="68.00" y1="47.80" x2="68.00" y2="66.00" stroke="#1a1a1a" stroke-width="1.2" stroke-dasharray="2.6,2.7"/>
<path d="M68.00,68.40 L66.80,65.40 L69.20,65.40 Z" fill="#1a1a1a"/>
<text x="67.00" y="74.20" font-size="5.75" text-anchor="middle" fill="#1c1c1c" font-weight="normal" stroke="#1c1c1c" stroke-width="0.1" >Pyruvate</text>
<circle cx="63.40" cy="79.20" r="2.30" fill="#0a0a0a" stroke="#ffffff" stroke-width="0.18"/>
<circle cx="68.00" cy="79.20" r="2.30" fill="#0a0a0a" stroke="#ffffff" stroke-width="0.18"/>
<circle cx="72.60" cy="79.20" r="2.30" fill="#0a0a0a" stroke="#ffffff" stroke-width="0.18"/>
<line x1="53.30" y1="72.30" x2="37.50" y2="72.30" stroke="#1e1e1e" stroke-width="0.8" />
<path d="M35.50,72.30 L39.00,70.85 L39.00,73.75 Z" fill="#1a1a1a"/>
<text x="18.70" y="74.10" font-size="5.75" text-anchor="middle" fill="#1c1c1c" font-weight="normal" stroke="#1c1c1c" stroke-width="0.1" >Alanine</text>
<circle cx="15.90" cy="79.00" r="2.30" fill="#0a0a0a" stroke="#ffffff" stroke-width="0.18"/>
<circle cx="20.65" cy="79.00" r="2.30" fill="#0a0a0a" stroke="#ffffff" stroke-width="0.18"/>
<circle cx="25.40" cy="79.00" r="2.30" fill="#0a0a0a" stroke="#ffffff" stroke-width="0.18"/>
<line x1="81.50" y1="72.50" x2="98.30" y2="72.50" stroke="#1e1e1e" stroke-width="0.8" />
<path d="M100.40,72.50 L96.90,73.95 L96.90,71.05 Z" fill="#1a1a1a"/>
<text x="113.10" y="74.40" font-size="5.75" text-anchor="middle" fill="#1c1c1c" font-weight="normal" stroke="#1c1c1c" stroke-width="0.1" >Lactate</text>
<circle cx="108.80" cy="79.50" r="2.30" fill="#0a0a0a" stroke="#ffffff" stroke-width="0.18"/>
<circle cx="113.50" cy="79.50" r="2.30" fill="#0a0a0a" stroke="#ffffff" stroke-width="0.18"/>
<circle cx="118.20" cy="79.50" r="2.30" fill="#0a0a0a" stroke="#ffffff" stroke-width="0.18"/>
<line x1="68.10" y1="85.30" x2="68.10" y2="92.00" stroke="#1e1e1e" stroke-width="0.9" stroke-dasharray="2.4,0.8"/>
<path d="M68.10,94.40 L66.90,91.60 L69.30,91.60 Z" fill="#1a1a1a"/>
<path d="M68.3,87.6 Q70.0,90.4 73.4,91.4" stroke="#1a1a1a" stroke-width="0.9" fill="none" />
<path d="M75.60,92.00 L72.80,92.39 L73.37,90.26 Z" fill="#1a1a1a"/>
<text x="76.6" y="86.5" font-size="5.75" fill="#161616">CO<tspan font-size="3.6" dy="1.6">2</tspan></text>
<circle cx="80.70" cy="91.10" r="2.10" fill="#0a0a0a" stroke="none" stroke-width="0"/>
<text x="68.60" y="102.40" font-size="5.75" text-anchor="middle" fill="#1c1c1c" font-weight="normal" stroke="#1c1c1c" stroke-width="0.1" >Acetyl-CoA</text>
<circle cx="74.80" cy="109.20" r="2.30" fill="#0a0a0a" stroke="#ffffff" stroke-width="0.18"/>
<circle cx="79.60" cy="109.20" r="2.30" fill="#0a0a0a" stroke="#ffffff" stroke-width="0.18"/>
<path d="M68.6,105.5 Q69.2,114.5 74.5,118.6" stroke="#1a1a1a" stroke-width="0.8" fill="none" />
<path d="M48.65,123.42 A39.7,39.7 0 0 1 84.65,121.53" stroke="#1a1a1a" stroke-width="1.0" fill="none" />
<path d="M85.56,121.94 L81.77,121.84 L82.95,119.19 Z" fill="#1a1a1a"/>
<path d="M101.80,136.18 A39.7,39.7 0 0 1 107.02,167.40" stroke="#1a1a1a" stroke-width="1.0" fill="none" />
<path d="M106.78,168.37 L106.22,164.63 L109.03,165.33 Z" fill="#1a1a1a"/>
<path d="M59.57,196.48 A39.7,39.7 0 0 1 46.30,190.71" stroke="#1a1a1a" stroke-width="1.0" fill="none" />
<path d="M45.47,190.15 L49.18,190.91 L47.56,193.31 Z" fill="#1a1a1a"/>
<path d="M35.98,180.57 A39.7,39.7 0 0 1 30.53,169.41" stroke="#1a1a1a" stroke-width="1.0" fill="none" />
<path d="M30.24,168.45 L32.65,171.37 L29.88,172.22 Z" fill="#1a1a1a"/>
<path d="M28.90,155.03 A39.7,39.7 0 0 1 34.83,136.76" stroke="#1a1a1a" stroke-width="1.0" fill="none" />
<path d="M35.36,135.91 L34.74,139.65 L32.28,138.11 Z" fill="#1a1a1a"/>
<path d="M103.7,182.3 Q101.5,189.6 93.8,192.6" stroke="#1a1a1a" stroke-width="0.8" fill="none" />
<path d="M91.80,193.30 L94.81,190.99 L95.56,193.79 Z" fill="#1a1a1a"/>
<path d="M100.6,188.6 Q101.2,195.0 103.5,198.0" stroke="#1a1a1a" stroke-width="0.8" fill="none" />
<path d="M104.60,199.60 L101.40,197.56 L103.78,195.90 Z" fill="#1a1a1a"/>
<text x="39.90" y="130.20" font-size="5.75" text-anchor="middle" fill="#1c1c1c" font-weight="normal" stroke="#1c1c1c" stroke-width="0.1" >Oxaloacetate</text>
<text x="92.70" y="129.30" font-size="5.75" text-anchor="middle" fill="#1c1c1c" font-weight="normal" stroke="#1c1c1c" stroke-width="0.1" >Citrate</text>
<circle cx="107.00" cy="132.60" r="2.30" fill="#0a0a0a" stroke="#ffffff" stroke-width="0.18"/>
<circle cx="111.75" cy="132.60" r="2.30" fill="#0a0a0a" stroke="#ffffff" stroke-width="0.18"/>
<circle cx="116.50" cy="132.60" r="1.95" fill="#ffffff" stroke="#222" stroke-width="0.6"/>
<circle cx="121.25" cy="132.60" r="1.95" fill="#ffffff" stroke="#222" stroke-width="0.6"/>
<circle cx="126.00" cy="132.60" r="1.95" fill="#ffffff" stroke="#222" stroke-width="0.6"/>
<circle cx="116.50" cy="127.90" r="1.95" fill="#ffffff" stroke="#222" stroke-width="0.6"/>
<circle cx="123.60" cy="139.90" r="2.30" fill="#124f86" stroke="#fff" stroke-width="0.25"/>
<circle cx="114.50" cy="144.50" r="2.30" fill="#124f86" stroke="#ffffff" stroke-width="0.18"/>
<circle cx="119.10" cy="144.50" r="2.30" fill="#124f86" stroke="#ffffff" stroke-width="0.18"/>
<circle cx="123.70" cy="144.50" r="2.30" fill="#124f86" stroke="#ffffff" stroke-width="0.18"/>
<circle cx="128.30" cy="144.50" r="1.95" fill="#ffffff" stroke="#222" stroke-width="0.6"/>
<circle cx="132.90" cy="144.50" r="1.95" fill="#ffffff" stroke="#222" stroke-width="0.6"/>
<text x="98.9" y="176.8" font-size="5.75" text-anchor="middle" fill="#161616">α-ketoglutarate</text>
<line x1="123.50" y1="176.30" x2="130.00" y2="176.30" stroke="#1e1e1e" stroke-width="0.9" />
<path d="M121.20,176.30 L124.00,175.15 L124.00,177.45 Z" fill="#1a1a1a"/>
<path d="M132.40,176.30 L129.60,177.45 L129.60,175.15 Z" fill="#1a1a1a"/>
<text x="146.30" y="177.90" font-size="5.75" text-anchor="middle" fill="#1c1c1c" font-weight="normal" stroke="#1c1c1c" stroke-width="0.1" >Glutamate</text>
<circle cx="137.20" cy="184.40" r="2.30" fill="#124f86" stroke="#ffffff" stroke-width="0.18"/>
<circle cx="142.00" cy="184.40" r="2.30" fill="#124f86" stroke="#ffffff" stroke-width="0.18"/>
<circle cx="146.80" cy="184.40" r="2.30" fill="#124f86" stroke="#ffffff" stroke-width="0.18"/>
<circle cx="151.60" cy="184.40" r="2.30" fill="#124f86" stroke="#ffffff" stroke-width="0.18"/>
<circle cx="156.40" cy="184.40" r="2.30" fill="#124f86" stroke="#ffffff" stroke-width="0.18"/>
<line x1="144.80" y1="202.40" x2="144.80" y2="190.60" stroke="#555" stroke-width="1.1" />
<path d="M144.80,188.20 L146.25,191.70 L143.35,191.70 Z" fill="#555"/>
<text x="145.20" y="207.30" font-size="5.75" text-anchor="middle" fill="#2a67a8" font-weight="normal" stroke="#2a67a8" stroke-width="0.1" >Glutamine</text>
<circle cx="134.50" cy="211.80" r="2.30" fill="#124f86" stroke="#ffffff" stroke-width="0.18"/>
<circle cx="139.30" cy="211.80" r="2.30" fill="#124f86" stroke="#ffffff" stroke-width="0.18"/>
<circle cx="144.10" cy="211.80" r="2.30" fill="#124f86" stroke="#ffffff" stroke-width="0.18"/>
<circle cx="148.90" cy="211.80" r="2.30" fill="#124f86" stroke="#ffffff" stroke-width="0.18"/>
<circle cx="153.70" cy="211.80" r="2.30" fill="#124f86" stroke="#ffffff" stroke-width="0.18"/>
<text x="107" y="203.6" font-size="5.75" fill="#161616">CO<tspan font-size="3.6" dy="1.6">2</tspan></text>
<circle cx="111.30" cy="208.60" r="1.90" fill="#ffffff" stroke="#222" stroke-width="0.6"/>
<circle cx="111.80" cy="215.30" r="2.20" fill="#124f86" stroke="none" stroke-width="0"/>
<text x="73.60" y="197.60" font-size="5.75" text-anchor="middle" fill="#1c1c1c" font-weight="normal" stroke="#1c1c1c" stroke-width="0.1" >Succinate</text>
<circle cx="66.50" cy="204.40" r="1.95" fill="#ffffff" stroke="#222" stroke-width="0.6"/>
<circle cx="71.15" cy="204.40" r="1.95" fill="#ffffff" stroke="#222" stroke-width="0.6"/>
<circle cx="75.80" cy="204.40" r="2.30" fill="#0a0a0a" stroke="#ffffff" stroke-width="0.18"/>
<circle cx="80.45" cy="204.40" r="2.30" fill="#0a0a0a" stroke="#ffffff" stroke-width="0.18"/>
<circle cx="66.50" cy="211.30" r="2.30" fill="#124f86" stroke="#ffffff" stroke-width="0.18"/>
<circle cx="71.15" cy="211.30" r="2.30" fill="#124f86" stroke="#ffffff" stroke-width="0.18"/>
<circle cx="75.80" cy="211.30" r="2.30" fill="#124f86" stroke="#ffffff" stroke-width="0.18"/>
<circle cx="80.45" cy="211.30" r="2.30" fill="#124f86" stroke="#ffffff" stroke-width="0.18"/>
<text x="39.00" y="185.70" font-size="5.75" text-anchor="middle" fill="#1c1c1c" font-weight="normal" stroke="#1c1c1c" stroke-width="0.1" >Fumarate</text>
<circle cx="25.00" cy="191.80" r="1.95" fill="#ffffff" stroke="#222" stroke-width="0.6"/>
<circle cx="29.70" cy="191.80" r="1.95" fill="#ffffff" stroke="#222" stroke-width="0.6"/>
<circle cx="34.40" cy="191.80" r="2.30" fill="#0a0a0a" stroke="#ffffff" stroke-width="0.18"/>
<circle cx="39.10" cy="191.80" r="2.30" fill="#0a0a0a" stroke="#ffffff" stroke-width="0.18"/>
<circle cx="25.00" cy="198.60" r="2.30" fill="#124f86" stroke="#ffffff" stroke-width="0.18"/>
<circle cx="29.70" cy="198.60" r="2.30" fill="#124f86" stroke="#ffffff" stroke-width="0.18"/>
<circle cx="34.40" cy="198.60" r="2.30" fill="#124f86" stroke="#ffffff" stroke-width="0.18"/>
<circle cx="39.10" cy="198.60" r="2.30" fill="#124f86" stroke="#ffffff" stroke-width="0.18"/>
<text x="28.60" y="162.20" font-size="5.75" text-anchor="middle" fill="#1c1c1c" font-weight="normal" stroke="#1c1c1c" stroke-width="0.1" >Malate</text>
<circle cx="9.00" cy="168.00" r="1.95" fill="#ffffff" stroke="#222" stroke-width="0.6"/>
<circle cx="13.60" cy="168.00" r="1.95" fill="#ffffff" stroke="#222" stroke-width="0.6"/>
<circle cx="18.20" cy="168.00" r="2.30" fill="#0a0a0a" stroke="#ffffff" stroke-width="0.18"/>
<circle cx="22.80" cy="168.00" r="2.30" fill="#0a0a0a" stroke="#ffffff" stroke-width="0.18"/>
<circle cx="9.00" cy="174.20" r="2.30" fill="#124f86" stroke="#ffffff" stroke-width="0.18"/>
<circle cx="13.60" cy="174.20" r="2.30" fill="#124f86" stroke="#ffffff" stroke-width="0.18"/>
<circle cx="18.20" cy="174.20" r="2.30" fill="#124f86" stroke="#ffffff" stroke-width="0.18"/>
<circle cx="22.80" cy="174.20" r="2.30" fill="#124f86" stroke="#ffffff" stroke-width="0.18"/>
<rect x="31.50" y="282.00" width="7.30" height="36.50" fill="#8dcdf2"/>
<rect x="45.20" y="292.00" width="7.20" height="26.50" fill="#f8c27a"/>
<circle cx="35.10" cy="268.00" r="1.05" fill="#2280c4" stroke="none" stroke-width="0"/>
<circle cx="32.20" cy="280.30" r="1.05" fill="#2280c4" stroke="none" stroke-width="0"/>
<circle cx="37.50" cy="280.30" r="1.05" fill="#2280c4" stroke="none" stroke-width="0"/>
<circle cx="35.10" cy="285.60" r="1.05" fill="#2280c4" stroke="none" stroke-width="0"/>
<circle cx="35.10" cy="298.90" r="1.05" fill="#2280c4" stroke="none" stroke-width="0"/>
<circle cx="48.80" cy="285.20" r="1.05" fill="#cf8a45" stroke="none" stroke-width="0"/>
<circle cx="47.50" cy="291.80" r="1.05" fill="#cf8a45" stroke="none" stroke-width="0"/>
<circle cx="52.00" cy="290.00" r="1.05" fill="#cf8a45" stroke="none" stroke-width="0"/>
<circle cx="49.00" cy="296.00" r="1.05" fill="#cf8a45" stroke="none" stroke-width="0"/>
<circle cx="49.00" cy="300.00" r="1.05" fill="#cf8a45" stroke="none" stroke-width="0"/>
<line x1="27.50" y1="250.60" x2="27.50" y2="319.00" stroke="#1e1e1e" stroke-width="1.1" />
<line x1="24.70" y1="318.50" x2="27.50" y2="318.50" stroke="#1e1e1e" stroke-width="0.9" />
<text x="21.80" y="320.40" font-size="5.8" text-anchor="end" fill="#2a2a2a" font-weight="normal" stroke="#2a2a2a" stroke-width="0.08" >0</text>
<line x1="24.70" y1="301.90" x2="27.50" y2="301.90" stroke="#1e1e1e" stroke-width="0.9" />
<text x="21.80" y="303.80" font-size="5.8" text-anchor="end" fill="#2a2a2a" font-weight="normal" stroke="#2a2a2a" stroke-width="0.08" >2</text>
<line x1="24.70" y1="285.30" x2="27.50" y2="285.30" stroke="#1e1e1e" stroke-width="0.9" />
<text x="21.80" y="287.20" font-size="5.8" text-anchor="end" fill="#2a2a2a" font-weight="normal" stroke="#2a2a2a" stroke-width="0.08" >4</text>
<line x1="24.70" y1="268.70" x2="27.50" y2="268.70" stroke="#1e1e1e" stroke-width="0.9" />
<text x="21.80" y="270.60" font-size="5.8" text-anchor="end" fill="#2a2a2a" font-weight="normal" stroke="#2a2a2a" stroke-width="0.08" >6</text>
<line x1="24.70" y1="252.10" x2="27.50" y2="252.10" stroke="#1e1e1e" stroke-width="0.9" />
<text x="21.80" y="254.00" font-size="5.8" text-anchor="end" fill="#2a2a2a" font-weight="normal" stroke="#2a2a2a" stroke-width="0.08" >8</text>
<line x1="27.00" y1="318.50" x2="56.00" y2="318.50" stroke="#1e1e1e" stroke-width="1.1" />
<line x1="35.00" y1="318.50" x2="35.00" y2="320.70" stroke="#1e1e1e" stroke-width="0.8" />
<text x="35.00" y="330.20" font-size="6.2" text-anchor="middle" fill="#161616" font-weight="normal" stroke="#161616" stroke-width="0.08" >21%</text>
<line x1="48.80" y1="318.50" x2="48.80" y2="320.70" stroke="#1e1e1e" stroke-width="0.8" />
<text x="48.80" y="330.20" font-size="6.2" text-anchor="middle" fill="#161616" font-weight="normal" stroke="#161616" stroke-width="0.08" >1%</text>
<path d="M34.4,263.3 L34.4,260.3 L49.6,260.3 L49.6,281.8" stroke="#333" stroke-width="0.8" fill="none" />
<text x="43.00" y="260.60" font-size="6.3" text-anchor="middle" fill="#333" font-weight="normal" stroke="#333" stroke-width="0.15" >*</text>
<text transform="translate(12.40,284.30) rotate(-90)" font-size="7.7" font-weight="bold" text-anchor="middle" fill="#161616" textLength="34.5" lengthAdjust="spacingAndGlyphs">[Lactate] mM</text>
<rect x="95.90" y="303.50" width="5.40" height="15.00" fill="#8dcdf2"/>
<rect x="104.00" y="307.90" width="5.20" height="10.60" fill="#f8c27a"/>
<rect x="117.40" y="292.20" width="5.00" height="26.30" fill="#8dcdf2"/>
<rect x="125.20" y="307.90" width="5.00" height="10.60" fill="#f8c27a"/>
<circle cx="98.60" cy="288.50" r="1.05" fill="#2280c4" stroke="none" stroke-width="0"/>
<circle cx="98.00" cy="300.50" r="1.05" fill="#2280c4" stroke="none" stroke-width="0"/>
<circle cx="101.00" cy="303.50" r="1.05" fill="#2280c4" stroke="none" stroke-width="0"/>
<circle cx="98.50" cy="310.90" r="1.05" fill="#2280c4" stroke="none" stroke-width="0"/>
<circle cx="98.50" cy="313.80" r="1.05" fill="#2280c4" stroke="none" stroke-width="0"/>
<circle cx="106.50" cy="304.20" r="1.05" fill="#cf8a45" stroke="none" stroke-width="0"/>
<circle cx="105.00" cy="308.00" r="1.05" fill="#cf8a45" stroke="none" stroke-width="0"/>
<circle cx="108.00" cy="308.00" r="1.05" fill="#cf8a45" stroke="none" stroke-width="0"/>
<circle cx="106.50" cy="310.00" r="1.05" fill="#cf8a45" stroke="none" stroke-width="0"/>
<circle cx="119.60" cy="272.50" r="1.05" fill="#2280c4" stroke="none" stroke-width="0"/>
<circle cx="119.60" cy="280.30" r="1.05" fill="#2280c4" stroke="none" stroke-width="0"/>
<circle cx="120.00" cy="298.30" r="1.05" fill="#2280c4" stroke="none" stroke-width="0"/>
<circle cx="120.00" cy="301.60" r="1.05" fill="#2280c4" stroke="none" stroke-width="0"/>
<circle cx="127.70" cy="295.90" r="1.05" fill="#cf8a45" stroke="none" stroke-width="0"/>
<circle cx="127.00" cy="305.00" r="1.05" fill="#cf8a45" stroke="none" stroke-width="0"/>
<circle cx="128.50" cy="308.70" r="1.05" fill="#cf8a45" stroke="none" stroke-width="0"/>
<circle cx="127.00" cy="313.80" r="1.05" fill="#cf8a45" stroke="none" stroke-width="0"/>
<line x1="93.70" y1="249.95" x2="93.70" y2="319.00" stroke="#1e1e1e" stroke-width="1.1" />
<line x1="90.90" y1="318.50" x2="93.70" y2="318.50" stroke="#1e1e1e" stroke-width="0.9" />
<text x="88.00" y="320.40" font-size="5.8" text-anchor="end" fill="#2a2a2a" font-weight="normal" stroke="#2a2a2a" stroke-width="0.08" >0</text>
<line x1="90.90" y1="296.15" x2="93.70" y2="296.15" stroke="#1e1e1e" stroke-width="0.9" />
<text x="88.00" y="298.05" font-size="5.8" text-anchor="end" fill="#2a2a2a" font-weight="normal" stroke="#2a2a2a" stroke-width="0.08" >5</text>
<line x1="90.90" y1="273.80" x2="93.70" y2="273.80" stroke="#1e1e1e" stroke-width="0.9" />
<text x="88.00" y="275.70" font-size="5.8" text-anchor="end" fill="#2a2a2a" font-weight="normal" stroke="#2a2a2a" stroke-width="0.08" >10</text>
<line x1="90.90" y1="251.45" x2="93.70" y2="251.45" stroke="#1e1e1e" stroke-width="0.9" />
<text x="88.00" y="253.35" font-size="5.8" text-anchor="end" fill="#2a2a2a" font-weight="normal" stroke="#2a2a2a" stroke-width="0.08" >15</text>
<line x1="93.20" y1="318.50" x2="133.00" y2="318.50" stroke="#1e1e1e" stroke-width="1.1" />
<line x1="102.10" y1="318.50" x2="102.10" y2="320.70" stroke="#1e1e1e" stroke-width="0.8" />
<text x="102.10" y="330.20" font-size="5.9" text-anchor="middle" fill="#161616" font-weight="normal" stroke="#161616" stroke-width="0.08" >Unstim.</text>
<line x1="123.30" y1="318.50" x2="123.30" y2="320.70" stroke="#1e1e1e" stroke-width="0.8" />
<text x="123.30" y="330.20" font-size="5.9" text-anchor="middle" fill="#161616" font-weight="normal" stroke="#161616" stroke-width="0.08" >Stim.</text>
<path d="M118.8,268.5 L118.8,264.0 L127.7,264.0 L127.7,292.9" stroke="#333" stroke-width="0.8" fill="none" />
<text x="123.70" y="265.00" font-size="6.3" text-anchor="middle" fill="#333" font-weight="normal" stroke="#333" stroke-width="0.15" >*</text>
<text transform="translate(75.60,284.50) rotate(-90)" font-size="7.0" font-weight="normal" text-anchor="middle" fill="#161616" textLength="15" lengthAdjust="spacingAndGlyphs">Δψm</text>
<rect x="175.70" y="305.70" width="5.90" height="12.80" fill="#8dcdf2"/>
<rect x="183.50" y="306.40" width="5.90" height="12.10" fill="#f8c27a"/>
<rect x="197.50" y="291.50" width="4.90" height="27.00" fill="#8dcdf2"/>
<rect x="204.90" y="308.70" width="5.20" height="9.80" fill="#f8c27a"/>
<circle cx="178.50" cy="298.30" r="1.05" fill="#2280c4" stroke="none" stroke-width="0"/>
<circle cx="176.00" cy="307.20" r="1.05" fill="#2280c4" stroke="none" stroke-width="0"/>
<circle cx="180.00" cy="305.00" r="1.05" fill="#2280c4" stroke="none" stroke-width="0"/>
<circle cx="178.00" cy="310.10" r="1.05" fill="#2280c4" stroke="none" stroke-width="0"/>
<circle cx="178.50" cy="316.10" r="1.05" fill="#2280c4" stroke="none" stroke-width="0"/>
<circle cx="186.00" cy="299.00" r="1.05" fill="#cf8a45" stroke="none" stroke-width="0"/>
<circle cx="186.00" cy="302.80" r="1.05" fill="#cf8a45" stroke="none" stroke-width="0"/>
<circle cx="184.50" cy="307.00" r="1.05" fill="#cf8a45" stroke="none" stroke-width="0"/>
<circle cx="188.00" cy="307.00" r="1.05" fill="#cf8a45" stroke="none" stroke-width="0"/>
<circle cx="186.00" cy="314.60" r="1.05" fill="#cf8a45" stroke="none" stroke-width="0"/>
<circle cx="200.00" cy="262.60" r="1.05" fill="#2280c4" stroke="none" stroke-width="0"/>
<circle cx="198.00" cy="278.10" r="1.05" fill="#2280c4" stroke="none" stroke-width="0"/>
<circle cx="201.00" cy="280.30" r="1.05" fill="#2280c4" stroke="none" stroke-width="0"/>
<circle cx="200.00" cy="290.90" r="1.05" fill="#2280c4" stroke="none" stroke-width="0"/>
<circle cx="200.00" cy="298.30" r="1.05" fill="#2280c4" stroke="none" stroke-width="0"/>
<circle cx="198.50" cy="304.20" r="1.05" fill="#2280c4" stroke="none" stroke-width="0"/>
<circle cx="202.00" cy="304.20" r="1.05" fill="#2280c4" stroke="none" stroke-width="0"/>
<circle cx="200.00" cy="313.10" r="1.05" fill="#2280c4" stroke="none" stroke-width="0"/>
<circle cx="206.00" cy="301.30" r="1.05" fill="#cf8a45" stroke="none" stroke-width="0"/>
<circle cx="209.50" cy="299.80" r="1.05" fill="#cf8a45" stroke="none" stroke-width="0"/>
<circle cx="209.50" cy="302.00" r="1.05" fill="#cf8a45" stroke="none" stroke-width="0"/>
<circle cx="207.50" cy="307.20" r="1.05" fill="#cf8a45" stroke="none" stroke-width="0"/>
<circle cx="207.50" cy="310.00" r="1.05" fill="#cf8a45" stroke="none" stroke-width="0"/>
<circle cx="209.00" cy="314.60" r="1.05" fill="#cf8a45" stroke="none" stroke-width="0"/>
<line x1="173.20" y1="250.04" x2="173.20" y2="319.00" stroke="#1e1e1e" stroke-width="1.1" />
<line x1="170.40" y1="318.50" x2="173.20" y2="318.50" stroke="#1e1e1e" stroke-width="0.9" />
<text x="167.30" y="320.40" font-size="5.8" text-anchor="end" fill="#2a2a2a" font-weight="normal" stroke="#2a2a2a" stroke-width="0.08" >0</text>
<line x1="170.40" y1="301.76" x2="173.20" y2="301.76" stroke="#1e1e1e" stroke-width="0.9" />
<text x="167.30" y="303.66" font-size="5.8" text-anchor="end" fill="#2a2a2a" font-weight="normal" stroke="#2a2a2a" stroke-width="0.08" >200</text>
<line x1="170.40" y1="285.02" x2="173.20" y2="285.02" stroke="#1e1e1e" stroke-width="0.9" />
<text x="167.30" y="286.92" font-size="5.8" text-anchor="end" fill="#2a2a2a" font-weight="normal" stroke="#2a2a2a" stroke-width="0.08" >400</text>
<line x1="170.40" y1="268.28" x2="173.20" y2="268.28" stroke="#1e1e1e" stroke-width="0.9" />
<text x="167.30" y="270.18" font-size="5.8" text-anchor="end" fill="#2a2a2a" font-weight="normal" stroke="#2a2a2a" stroke-width="0.08" >600</text>
<line x1="170.40" y1="251.54" x2="173.20" y2="251.54" stroke="#1e1e1e" stroke-width="0.9" />
<text x="167.30" y="253.44" font-size="5.8" text-anchor="end" fill="#2a2a2a" font-weight="normal" stroke="#2a2a2a" stroke-width="0.08" >800</text>
<line x1="172.70" y1="318.50" x2="213.00" y2="318.50" stroke="#1e1e1e" stroke-width="1.1" />
<line x1="182.50" y1="318.50" x2="182.50" y2="320.70" stroke="#1e1e1e" stroke-width="0.8" />
<text x="182.50" y="330.20" font-size="5.9" text-anchor="middle" fill="#161616" font-weight="normal" stroke="#161616" stroke-width="0.08" >Unstim.</text>
<line x1="203.80" y1="318.50" x2="203.80" y2="320.70" stroke="#1e1e1e" stroke-width="0.8" />
<text x="203.80" y="330.20" font-size="5.9" text-anchor="middle" fill="#161616" font-weight="normal" stroke="#161616" stroke-width="0.08" >Stim.</text>
<path d="M199.3,258.1 L199.3,254.4 L207.7,254.4 L207.7,295.9" stroke="#333" stroke-width="0.8" fill="none" />
<text x="203.70" y="255.40" font-size="6.3" text-anchor="middle" fill="#333" font-weight="normal" stroke="#333" stroke-width="0.15" >**</text>
<text transform="translate(151.00,281.90) rotate(-90)" font-size="7.7" font-weight="bold" text-anchor="middle" fill="#161616" textLength="32.5" lengthAdjust="spacingAndGlyphs">mitoSOX (MFI)</text>
<rect x="255.40" y="315.30" width="4.40" height="3.20" fill="#8dcdf2"/>
<rect x="262.50" y="313.10" width="5.40" height="5.40" fill="#f8c27a"/>
<rect x="275.30" y="296.10" width="5.90" height="22.40" fill="#8dcdf2"/>
<rect x="283.20" y="310.90" width="4.70" height="7.60" fill="#f8c27a"/>
<circle cx="257.50" cy="307.90" r="1.05" fill="#2280c4" stroke="none" stroke-width="0"/>
<circle cx="257.50" cy="311.60" r="1.05" fill="#2280c4" stroke="none" stroke-width="0"/>
<circle cx="256.50" cy="316.00" r="1.05" fill="#2280c4" stroke="none" stroke-width="0"/>
<circle cx="258.50" cy="316.50" r="1.05" fill="#2280c4" stroke="none" stroke-width="0"/>
<circle cx="265.00" cy="299.00" r="1.05" fill="#cf8a45" stroke="none" stroke-width="0"/>
<circle cx="265.00" cy="308.70" r="1.05" fill="#cf8a45" stroke="none" stroke-width="0"/>
<circle cx="264.00" cy="313.10" r="1.05" fill="#cf8a45" stroke="none" stroke-width="0"/>
<circle cx="266.00" cy="314.00" r="1.05" fill="#cf8a45" stroke="none" stroke-width="0"/>
<circle cx="265.00" cy="316.50" r="1.05" fill="#cf8a45" stroke="none" stroke-width="0"/>
<circle cx="276.40" cy="259.80" r="1.05" fill="#2280c4" stroke="none" stroke-width="0"/>
<circle cx="279.80" cy="259.00" r="1.05" fill="#2280c4" stroke="none" stroke-width="0"/>
<circle cx="277.00" cy="298.30" r="1.05" fill="#2280c4" stroke="none" stroke-width="0"/>
<circle cx="277.00" cy="307.20" r="1.05" fill="#2280c4" stroke="none" stroke-width="0"/>
<circle cx="279.50" cy="307.90" r="1.05" fill="#2280c4" stroke="none" stroke-width="0"/>
<circle cx="277.50" cy="315.30" r="1.05" fill="#2280c4" stroke="none" stroke-width="0"/>
<circle cx="280.00" cy="315.30" r="1.05" fill="#2280c4" stroke="none" stroke-width="0"/>
<circle cx="285.70" cy="292.00" r="1.05" fill="#cf8a45" stroke="none" stroke-width="0"/>
<circle cx="285.50" cy="302.00" r="1.05" fill="#cf8a45" stroke="none" stroke-width="0"/>
<circle cx="284.50" cy="310.90" r="1.05" fill="#cf8a45" stroke="none" stroke-width="0"/>
<circle cx="286.50" cy="312.00" r="1.05" fill="#cf8a45" stroke="none" stroke-width="0"/>
<circle cx="285.00" cy="315.30" r="1.05" fill="#cf8a45" stroke="none" stroke-width="0"/>
<line x1="251.90" y1="251.80" x2="251.90" y2="319.00" stroke="#1e1e1e" stroke-width="1.1" />
<line x1="249.10" y1="318.50" x2="251.90" y2="318.50" stroke="#1e1e1e" stroke-width="0.9" />
<text x="245.80" y="320.40" font-size="5.8" text-anchor="end" fill="#2a2a2a" font-weight="normal" stroke="#2a2a2a" stroke-width="0.08" >0</text>
<line x1="249.10" y1="302.20" x2="251.90" y2="302.20" stroke="#1e1e1e" stroke-width="0.9" />
<text x="245.80" y="304.10" font-size="5.8" text-anchor="end" fill="#2a2a2a" font-weight="normal" stroke="#2a2a2a" stroke-width="0.08" >10</text>
<line x1="249.10" y1="285.90" x2="251.90" y2="285.90" stroke="#1e1e1e" stroke-width="0.9" />
<text x="245.80" y="287.80" font-size="5.8" text-anchor="end" fill="#2a2a2a" font-weight="normal" stroke="#2a2a2a" stroke-width="0.08" >20</text>
<line x1="249.10" y1="269.60" x2="251.90" y2="269.60" stroke="#1e1e1e" stroke-width="0.9" />
<text x="245.80" y="271.50" font-size="5.8" text-anchor="end" fill="#2a2a2a" font-weight="normal" stroke="#2a2a2a" stroke-width="0.08" >30</text>
<line x1="249.10" y1="253.30" x2="251.90" y2="253.30" stroke="#1e1e1e" stroke-width="0.9" />
<text x="245.80" y="255.20" font-size="5.8" text-anchor="end" fill="#2a2a2a" font-weight="normal" stroke="#2a2a2a" stroke-width="0.08" >40</text>
<line x1="251.40" y1="318.50" x2="291.00" y2="318.50" stroke="#1e1e1e" stroke-width="1.1" />
<line x1="261.00" y1="318.50" x2="261.00" y2="320.70" stroke="#1e1e1e" stroke-width="0.8" />
<text x="261.00" y="330.20" font-size="5.9" text-anchor="middle" fill="#161616" font-weight="normal" stroke="#161616" stroke-width="0.08" >Unstim.</text>
<line x1="281.20" y1="318.50" x2="281.20" y2="320.70" stroke="#1e1e1e" stroke-width="0.8" />
<text x="281.20" y="330.20" font-size="5.9" text-anchor="middle" fill="#161616" font-weight="normal" stroke="#161616" stroke-width="0.08" >Stim.</text>
<path d="M277.8,255.0 L277.8,251.2 L285.7,251.2 L285.7,289.4" stroke="#333" stroke-width="0.8" fill="none" />
<text x="282.00" y="251.60" font-size="6.3" text-anchor="middle" fill="#333" font-weight="normal" stroke="#333" stroke-width="0.15" >*</text>
<text transform="translate(232.3,281.5) rotate(-90)" font-size="7.0" font-weight="bold" text-anchor="middle" fill="#161616" textLength="43.5" lengthAdjust="spacingAndGlyphs">DCFDA (MFI × 10<tspan font-size="3.6" dy="-2">3</tspan><tspan dy="2">)</tspan></text>
<path d="M314.5,285.8 L329,285.8 C331.5,285.8 333.5,276 334.8,265 C335.5,258 335.8,254.5 336.2,254.5 C336.7,254.5 337.2,260 337.8,267 C338.5,274 340,279 342,281.5 C344,283.5 347,285.8 350,285.8 L381.5,285.8" fill="#ededed" stroke="#b8b8b8" stroke-width="0.9"/>
<path d="M314.5,302.0 L331,302.0 C332.5,302.0 333.2,290 334,280 C334.6,274 335.4,271 336.1,271 C336.9,271 337.6,276 338.5,281 C339.4,286 340.3,288 341.3,288 C342.5,288 343.5,282 344.5,279 C345.2,277 345.8,277 346.4,277 C347.3,277 348.3,282 349.5,288 C350.8,295 351.8,302.0 353.5,302.0 L381.5,302.0" fill="#c9e5f7" stroke="#2a8dd4" stroke-width="1.1"/>
<path d="M314.5,317.6 L330,317.6 C331.5,317.6 332.8,305 333.8,296 C334.4,291 334.9,288.5 335.4,288.5 C336,288.5 336.6,294 337.4,300 C338.3,306 339.8,309 341.3,310.5 C343,312.5 345,314.5 347,315.5 C349,316.8 351,317.6 353,317.6 L381.5,317.6" fill="#fbd9ad" stroke="#c9873e" stroke-width="0.8"/>
<path d="M314.5,252.1 L314.5,318.0 L381.5,318.0 L381.5,252.1 Z" fill="none" stroke="#1a1a1a" stroke-width="1.1"/>
<line x1="316.00" y1="318.00" x2="316.00" y2="319.30" stroke="#444" stroke-width="0.6" />
<line x1="318.60" y1="318.00" x2="318.60" y2="319.30" stroke="#444" stroke-width="0.6" />
<line x1="321.20" y1="318.00" x2="321.20" y2="319.30" stroke="#444" stroke-width="0.6" />
<line x1="323.80" y1="318.00" x2="323.80" y2="319.30" stroke="#444" stroke-width="0.6" />
<line x1="326.40" y1="318.00" x2="326.40" y2="319.30" stroke="#444" stroke-width="0.6" />
<line x1="329.00" y1="318.00" x2="329.00" y2="319.30" stroke="#444" stroke-width="0.6" />
<line x1="331.60" y1="318.00" x2="331.60" y2="319.30" stroke="#444" stroke-width="0.6" />
<line x1="334.20" y1="318.00" x2="334.20" y2="319.30" stroke="#444" stroke-width="0.6" />
<line x1="336.80" y1="318.00" x2="336.80" y2="319.30" stroke="#444" stroke-width="0.6" />
<line x1="339.40" y1="318.00" x2="339.40" y2="319.30" stroke="#444" stroke-width="0.6" />
<line x1="342.00" y1="318.00" x2="342.00" y2="319.30" stroke="#444" stroke-width="0.6" />
<line x1="344.60" y1="318.00" x2="344.60" y2="319.30" stroke="#444" stroke-width="0.6" />
<line x1="347.20" y1="318.00" x2="347.20" y2="319.30" stroke="#444" stroke-width="0.6" />
<line x1="349.80" y1="318.00" x2="349.80" y2="319.30" stroke="#444" stroke-width="0.6" />
<line x1="352.40" y1="318.00" x2="352.40" y2="319.30" stroke="#444" stroke-width="0.6" />
<line x1="355.00" y1="318.00" x2="355.00" y2="319.30" stroke="#444" stroke-width="0.6" />
<line x1="357.60" y1="318.00" x2="357.60" y2="319.30" stroke="#444" stroke-width="0.6" />
<line x1="360.20" y1="318.00" x2="360.20" y2="319.30" stroke="#444" stroke-width="0.6" />
<line x1="362.80" y1="318.00" x2="362.80" y2="319.30" stroke="#444" stroke-width="0.6" />
<line x1="365.40" y1="318.00" x2="365.40" y2="319.30" stroke="#444" stroke-width="0.6" />
<line x1="368.00" y1="318.00" x2="368.00" y2="319.30" stroke="#444" stroke-width="0.6" />
<line x1="370.60" y1="318.00" x2="370.60" y2="319.30" stroke="#444" stroke-width="0.6" />
<line x1="373.20" y1="318.00" x2="373.20" y2="319.30" stroke="#444" stroke-width="0.6" />
<line x1="375.80" y1="318.00" x2="375.80" y2="319.30" stroke="#444" stroke-width="0.6" />
<line x1="378.40" y1="318.00" x2="378.40" y2="319.30" stroke="#444" stroke-width="0.6" />
<line x1="381.00" y1="318.00" x2="381.00" y2="319.30" stroke="#444" stroke-width="0.6" />
<text x="366.70" y="249.30" font-size="5.8" text-anchor="middle" fill="#d2d2d2" font-weight="normal"  >Unstim.</text>
<text x="362.80" y="278.70" font-size="6.1" text-anchor="middle" fill="#2f76b4" font-weight="normal" stroke="#2f76b4" stroke-width="0.08" >Stim. 21%</text>
<text x="364.80" y="294.30" font-size="6.0" text-anchor="middle" fill="#f0a25a" font-weight="normal" stroke="#f0a25a" stroke-width="0.08" >Stim. 1%</text>
<text x="316.9" y="329.8" font-size="7.6" font-weight="bold" fill="#222" textLength="12.8" lengthAdjust="spacingAndGlyphs">NFAT</text>
<line x1="338.40" y1="327.40" x2="376.00" y2="327.40" stroke="#1e1e1e" stroke-width="1.2" />
<path d="M381.00,327.40 L374.60,329.90 L374.60,324.90 Z" fill="#1a1a1a"/>
<text transform="translate(309.80,283.00) rotate(-90)" font-size="7.7" font-weight="bold" text-anchor="middle" fill="#161616" textLength="24.6" lengthAdjust="spacingAndGlyphs">% of nuclei</text>
<rect x="420.30" y="267.50" width="8.00" height="51.00" fill="#8dcdf2"/>
<rect x="435.00" y="283.20" width="7.40" height="35.30" fill="#f8c27a"/>
<circle cx="424.50" cy="253.90" r="1.05" fill="#2280c4" stroke="none" stroke-width="0"/>
<circle cx="424.00" cy="265.20" r="1.05" fill="#2280c4" stroke="none" stroke-width="0"/>
<circle cx="421.00" cy="270.60" r="1.05" fill="#2280c4" stroke="none" stroke-width="0"/>
<circle cx="428.00" cy="270.60" r="1.05" fill="#2280c4" stroke="none" stroke-width="0"/>
<circle cx="424.50" cy="275.50" r="1.05" fill="#2280c4" stroke="none" stroke-width="0"/>
<circle cx="438.50" cy="259.90" r="1.05" fill="#cf8a45" stroke="none" stroke-width="0"/>
<circle cx="438.50" cy="279.10" r="1.05" fill="#cf8a45" stroke="none" stroke-width="0"/>
<circle cx="438.50" cy="283.30" r="1.05" fill="#cf8a45" stroke="none" stroke-width="0"/>
<circle cx="438.50" cy="289.80" r="1.05" fill="#cf8a45" stroke="none" stroke-width="0"/>
<circle cx="438.50" cy="302.80" r="1.05" fill="#cf8a45" stroke="none" stroke-width="0"/>
<line x1="416.70" y1="248.00" x2="416.70" y2="319.00" stroke="#1e1e1e" stroke-width="1.1" />
<line x1="413.90" y1="318.50" x2="416.70" y2="318.50" stroke="#1e1e1e" stroke-width="0.9" />
<text x="411.00" y="320.40" font-size="5.8" text-anchor="end" fill="#2a2a2a" font-weight="normal" stroke="#2a2a2a" stroke-width="0.08" >1.0</text>
<line x1="413.90" y1="295.50" x2="416.70" y2="295.50" stroke="#1e1e1e" stroke-width="0.9" />
<text x="411.00" y="297.40" font-size="5.8" text-anchor="end" fill="#2a2a2a" font-weight="normal" stroke="#2a2a2a" stroke-width="0.08" >1.5</text>
<line x1="413.90" y1="272.50" x2="416.70" y2="272.50" stroke="#1e1e1e" stroke-width="0.9" />
<text x="411.00" y="274.40" font-size="5.8" text-anchor="end" fill="#2a2a2a" font-weight="normal" stroke="#2a2a2a" stroke-width="0.08" >2.0</text>
<line x1="413.90" y1="249.50" x2="416.70" y2="249.50" stroke="#1e1e1e" stroke-width="0.9" />
<text x="411.00" y="251.40" font-size="5.8" text-anchor="end" fill="#2a2a2a" font-weight="normal" stroke="#2a2a2a" stroke-width="0.08" >2.5</text>
<line x1="416.20" y1="318.50" x2="446.00" y2="318.50" stroke="#1e1e1e" stroke-width="1.1" />
<line x1="424.00" y1="318.50" x2="424.00" y2="320.70" stroke="#1e1e1e" stroke-width="0.8" />
<text x="424.00" y="330.20" font-size="6.2" text-anchor="middle" fill="#161616" font-weight="normal" stroke="#161616" stroke-width="0.08" >21%</text>
<line x1="438.50" y1="318.50" x2="438.50" y2="320.70" stroke="#1e1e1e" stroke-width="0.8" />
<text x="438.50" y="330.20" font-size="6.2" text-anchor="middle" fill="#161616" font-weight="normal" stroke="#161616" stroke-width="0.08" >1%</text>
<path d="M424.1,249.8 L424.1,246.2 L438.3,246.2 L438.3,256.0" stroke="#333" stroke-width="0.8" fill="none" />
<text x="432.00" y="246.60" font-size="6.3" text-anchor="middle" fill="#333" font-weight="normal" stroke="#333" stroke-width="0.15" >*</text>
<text transform="translate(396.60,282.00) rotate(-90)" font-size="7.7" font-weight="bold" text-anchor="middle" fill="#161616" textLength="68.7" lengthAdjust="spacingAndGlyphs">Nuclear NFAT (Δ upon Stim.)</text>
<rect x="487.90" y="276.00" width="8.00" height="42.50" fill="#8dcdf2"/>
<rect x="502.10" y="275.60" width="7.60" height="42.90" fill="#f8c27a"/>
<circle cx="492.00" cy="260.30" r="1.05" fill="#2280c4" stroke="none" stroke-width="0"/>
<circle cx="492.00" cy="261.90" r="1.05" fill="#2280c4" stroke="none" stroke-width="0"/>
<circle cx="492.00" cy="287.40" r="1.05" fill="#2280c4" stroke="none" stroke-width="0"/>
<circle cx="492.00" cy="294.90" r="1.05" fill="#2280c4" stroke="none" stroke-width="0"/>
<circle cx="506.00" cy="254.30" r="1.05" fill="#cf8a45" stroke="none" stroke-width="0"/>
<circle cx="506.00" cy="276.00" r="1.05" fill="#cf8a45" stroke="none" stroke-width="0"/>
<circle cx="506.00" cy="279.50" r="1.05" fill="#cf8a45" stroke="none" stroke-width="0"/>
<circle cx="506.00" cy="281.20" r="1.05" fill="#cf8a45" stroke="none" stroke-width="0"/>
<circle cx="506.00" cy="289.20" r="1.05" fill="#cf8a45" stroke="none" stroke-width="0"/>
<line x1="483.60" y1="249.20" x2="483.60" y2="319.00" stroke="#1e1e1e" stroke-width="1.1" />
<line x1="480.80" y1="318.50" x2="483.60" y2="318.50" stroke="#1e1e1e" stroke-width="0.9" />
<text x="477.00" y="320.40" font-size="5.8" text-anchor="end" fill="#2a2a2a" font-weight="normal" stroke="#2a2a2a" stroke-width="0.08" >0.5</text>
<line x1="480.80" y1="295.90" x2="483.60" y2="295.90" stroke="#1e1e1e" stroke-width="0.9" />
<text x="477.00" y="297.80" font-size="5.8" text-anchor="end" fill="#2a2a2a" font-weight="normal" stroke="#2a2a2a" stroke-width="0.08" >1.0</text>
<line x1="480.80" y1="273.30" x2="483.60" y2="273.30" stroke="#1e1e1e" stroke-width="0.9" />
<text x="477.00" y="275.20" font-size="5.8" text-anchor="end" fill="#2a2a2a" font-weight="normal" stroke="#2a2a2a" stroke-width="0.08" >1.5</text>
<line x1="480.80" y1="250.70" x2="483.60" y2="250.70" stroke="#1e1e1e" stroke-width="0.9" />
<text x="477.00" y="252.60" font-size="5.8" text-anchor="end" fill="#2a2a2a" font-weight="normal" stroke="#2a2a2a" stroke-width="0.08" >2.0</text>
<line x1="483.10" y1="318.50" x2="512.70" y2="318.50" stroke="#1e1e1e" stroke-width="1.1" />
<line x1="491.60" y1="318.50" x2="491.60" y2="320.70" stroke="#1e1e1e" stroke-width="0.8" />
<text x="491.60" y="330.20" font-size="6.2" text-anchor="middle" fill="#161616" font-weight="normal" stroke="#161616" stroke-width="0.08" >21%</text>
<line x1="505.80" y1="318.50" x2="505.80" y2="320.70" stroke="#1e1e1e" stroke-width="0.8" />
<text x="505.80" y="330.20" font-size="6.2" text-anchor="middle" fill="#161616" font-weight="normal" stroke="#161616" stroke-width="0.08" >1%</text>
<text transform="translate(462.80,284.00) rotate(-90)" font-size="7.7" font-weight="bold" text-anchor="middle" fill="#161616" textLength="65" lengthAdjust="spacingAndGlyphs">Total NFAT (Δ upon Stim.)</text>
</svg>
</body></html>
